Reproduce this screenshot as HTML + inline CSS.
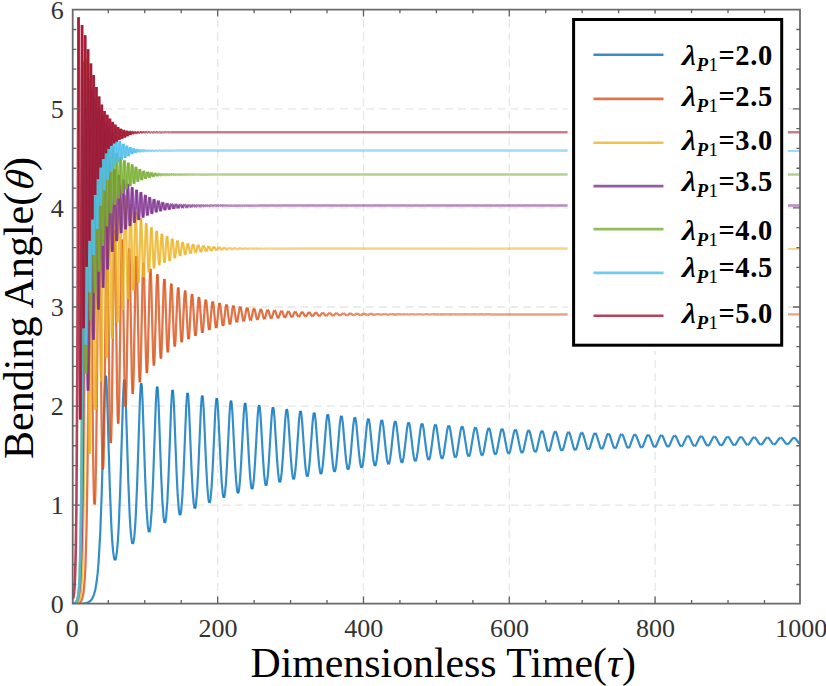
<!DOCTYPE html>
<html><head><meta charset="utf-8"><style>
html,body{margin:0;padding:0;background:#fff;}
body{width:826px;height:686px;overflow:hidden;}
svg{display:block;}
text{font-family:"Liberation Serif",serif;}
</style></head><body>
<svg width="826" height="686" viewBox="0 0 826 686">
<defs><clipPath id="pc"><rect x="72.7" y="9.6" width="727.30" height="594.00"/></clipPath></defs>
<rect width="826" height="686" fill="#fff"/>
<g clip-path="url(#pc)">
<path d="M217.66,6.5V603.60M363.48,6.5V603.60M509.30,6.5V603.60M655.12,6.5V603.60M64.9,505.20H800.00M64.9,406.10H800.00M64.9,307.00H800.00M64.9,207.90H800.00M64.9,108.80H800.00" stroke="#e6e6e6" stroke-width="1.3" stroke-dasharray="8 5.1" fill="none"/>
<g fill="none" stroke-width="2.1" stroke-linejoin="round">
<g stroke="#0072BD"><path stroke-opacity="0.80" stroke-width="2.20" d="M72.70,603.68 80.60,603.59 84.91,603.24 87.96,602.45 90.24,601.05 91.30,599.94 92.25,598.56 93.88,594.87 95.28,589.70 96.49,582.81 97.57,573.94 98.54,562.88 100.25,532.92 101.78,491.28 104.49,396.08 105.18,380.73 105.50,377.01 105.81,375.73"/><path stroke-opacity="0.80" stroke-width="2.20" d="M105.81,375.73 106.12,376.81 106.43,380.22 107.10,394.40 109.81,486.90 111.35,526.11 112.21,540.87 113.10,551.44 114.04,557.90 114.52,559.54 115.00,560.12"/><path stroke-opacity="0.80" stroke-width="2.20" d="M115.00,560.12 115.49,559.64 115.97,558.09 116.91,551.85 117.81,541.59 118.69,527.15 120.25,488.78 123.02,398.37 123.71,384.36 124.03,380.89 124.35,379.66"/><path stroke-opacity="0.80" stroke-width="2.20" d="M124.35,379.66 124.66,380.68 124.98,383.94 125.67,397.66 128.29,480.97 129.67,514.92 130.40,527.42 131.16,536.45 131.93,541.89 132.32,543.29 132.72,543.77"/><path stroke-opacity="0.80" stroke-width="2.20" d="M132.72,543.77 133.11,543.35 133.50,542.04 134.27,536.79 135.03,528.08 135.77,515.90 137.18,482.71 139.85,401.27 140.55,387.74 140.88,384.44 141.21,383.29"/><path stroke-opacity="0.80" stroke-width="2.20" d="M141.21,383.29 141.53,384.30 141.85,387.45 142.55,400.44 145.12,476.69 146.41,506.87 147.76,525.66 148.45,530.44 148.79,531.63 149.14,532.05"/><path stroke-opacity="0.80" stroke-width="2.20" d="M149.14,532.05 149.48,531.70 149.83,530.59 150.51,526.07 151.86,507.88 153.17,478.53 155.80,403.70 156.52,390.83 156.85,387.71 157.18,386.66"/><path stroke-opacity="0.80" stroke-width="2.20" d="M157.18,386.66 157.51,387.64 157.83,390.59 158.54,402.81 161.09,473.38 162.32,500.55 163.57,517.18 164.20,521.33 164.51,522.39 164.83,522.77"/><path stroke-opacity="0.80" stroke-width="2.20" d="M164.83,522.77 165.15,522.46 165.47,521.46 166.09,517.47 167.34,501.39 168.59,475.05 171.18,405.89 171.91,393.76 172.24,390.83 172.58,389.81"/><path stroke-opacity="0.80" stroke-width="2.20" d="M172.58,389.81 172.91,390.70 173.24,393.49 173.96,405.12 176.49,470.68 177.68,495.18 178.86,510.06 179.45,513.78 179.74,514.72 180.04,515.06"/><path stroke-opacity="0.80" stroke-width="2.20" d="M180.04,515.06 180.33,514.79 180.62,513.90 181.21,510.32 182.39,495.93 183.58,472.13 186.16,408.00 186.89,396.53 187.24,393.73 187.58,392.77"/><path stroke-opacity="0.80" stroke-width="2.20" d="M187.58,392.77 187.91,393.64 188.25,396.26 188.97,407.25 191.49,468.19 192.64,490.54 193.76,503.93 194.32,507.32 194.88,508.48"/><path stroke-opacity="0.80" stroke-width="2.20" d="M194.88,508.48 195.16,508.24 195.43,507.46 195.99,504.25 197.12,491.25 198.27,469.69 200.84,409.88 201.58,399.08 201.92,396.47 202.26,395.55"/><path stroke-opacity="0.80" stroke-width="2.20" d="M202.26,395.55 202.60,396.33 202.94,398.79 203.68,409.10 206.19,466.05 207.31,486.51 208.39,498.65 208.93,501.72 209.46,502.76"/><path stroke-opacity="0.80" stroke-width="2.20" d="M209.46,502.76 209.72,502.54 209.99,501.83 210.52,498.94 211.60,487.15 212.72,467.40 215.28,411.74 216.03,401.53 216.38,399.03 216.73,398.16"/><path stroke-opacity="0.80" stroke-width="2.20" d="M216.73,398.16 217.07,398.94 217.41,401.26 218.15,411.03 220.66,464.18 221.75,482.89 222.79,493.96 223.31,496.75 223.82,497.71"/><path stroke-opacity="0.80" stroke-width="2.20" d="M223.82,497.71 224.33,496.87 224.85,494.21 225.89,483.54 226.98,465.47 229.53,413.39 230.29,403.77 230.64,401.45 230.99,400.63"/><path stroke-opacity="0.80" stroke-width="2.20" d="M230.99,400.63 231.33,401.33 231.68,403.53 232.43,412.72 234.94,462.44 236.01,479.67 237.03,489.84 237.53,492.37 238.02,493.22"/><path stroke-opacity="0.80" stroke-width="2.20" d="M238.02,493.22 238.52,492.43 239.01,490.02 240.02,480.23 241.09,463.58 243.64,414.96 244.40,405.90 244.76,403.70 245.11,402.95"/><path stroke-opacity="0.80" stroke-width="2.20" d="M245.11,402.95 245.46,403.64 245.81,405.72 246.56,414.43 249.07,460.86 250.12,476.80 251.11,486.10 251.60,488.41 252.08,489.19"/><path stroke-opacity="0.80" stroke-width="2.20" d="M252.08,489.19 252.56,488.47 253.04,486.27 254.03,477.26 255.07,461.95 257.61,416.53 258.38,407.95 258.74,405.87 259.10,405.14"/><path stroke-opacity="0.80" stroke-width="2.20" d="M259.10,405.14 259.45,405.77 259.80,407.74 260.57,415.96 263.07,459.44 264.10,474.11 265.07,482.68 265.54,484.82 266.01,485.56"/><path stroke-opacity="0.80" stroke-width="2.20" d="M266.01,485.56 266.48,484.91 266.95,482.88 267.91,474.67 268.95,460.52 271.49,417.88 272.26,409.86 272.63,407.88 272.98,407.21"/><path stroke-opacity="0.80" stroke-width="2.20" d="M272.98,407.21 273.34,407.82 273.70,409.67 274.46,417.36 276.97,458.18 277.99,471.74 278.93,479.62 279.40,481.59 279.86,482.26"/><path stroke-opacity="0.80" stroke-width="2.20" d="M279.86,482.26 280.31,481.66 280.77,479.81 281.72,472.21 282.74,459.09 285.28,419.24 286.05,411.67 286.42,409.81 286.78,409.16"/><path stroke-opacity="0.80" stroke-width="2.20" d="M286.78,409.16 287.14,409.73 287.50,411.50 288.27,418.78 290.78,457.03 291.79,469.56 292.72,476.84 293.17,478.64 293.62,479.26"/><path stroke-opacity="0.80" stroke-width="2.20" d="M293.62,479.26 294.07,478.70 294.52,476.98 295.44,469.99 296.45,457.86 298.99,420.52 299.77,413.36 300.14,411.60 300.51,411.01"/><path stroke-opacity="0.80" stroke-width="2.20" d="M300.51,411.01 300.86,411.54 301.23,413.19 302.01,420.05 304.52,455.89 305.51,467.57 306.43,474.29 306.87,475.95 307.32,476.52"/><path stroke-opacity="0.80" stroke-width="2.20" d="M307.32,476.52 307.75,476.01 308.20,474.42 309.11,467.97 310.09,456.76 312.64,421.68 313.43,414.93 313.80,413.29 314.17,412.74"/><path stroke-opacity="0.80" stroke-width="2.20" d="M314.17,412.74 314.53,413.26 314.90,414.82 315.67,421.24 318.19,454.90 319.17,465.71 320.07,471.93 320.51,473.47 320.95,474.00"/><path stroke-opacity="0.80" stroke-width="2.20" d="M320.95,474.00 321.38,473.53 321.82,472.05 322.71,466.07 323.70,455.61 326.24,422.81 327.03,416.48 327.40,414.93 327.77,414.39"/><path stroke-opacity="0.80" stroke-width="2.20" d="M327.77,414.39 328.13,414.86 328.50,416.33 329.29,422.39 331.81,453.94 332.78,464.01 333.67,469.77 334.10,471.20 334.53,471.70"/><path stroke-opacity="0.80" stroke-width="2.20" d="M334.53,471.70 334.96,471.26 335.39,469.91 336.27,464.35 337.24,454.69 339.79,423.87 340.59,417.89 340.96,416.44 341.33,415.94"/><path stroke-opacity="0.80" stroke-width="2.20" d="M341.33,415.94 341.69,416.37 342.06,417.74 342.86,423.44 345.38,453.09 346.35,462.46 347.22,467.78 347.65,469.12 348.07,469.57"/><path stroke-opacity="0.80" stroke-width="2.20" d="M348.07,469.57 348.49,469.17 348.92,467.92 349.79,462.79 350.75,453.80 353.29,424.90 354.10,419.24 354.48,417.87 354.85,417.40"/><path stroke-opacity="0.80" stroke-width="2.20" d="M354.85,417.40 355.22,417.82 355.59,419.12 356.39,424.47 358.92,452.34 359.87,461.00 360.74,465.95 361.16,467.19 361.57,467.61"/><path stroke-opacity="0.80" stroke-width="2.20" d="M361.57,467.61 361.99,467.25 362.41,466.08 363.27,461.30 364.23,452.92 366.77,425.83 367.58,420.53 367.96,419.23 368.34,418.78"/><path stroke-opacity="0.80" stroke-width="2.20" d="M368.34,418.78 368.71,419.17 369.08,420.38 369.88,425.43 372.41,451.56 373.36,459.68 374.21,464.25 374.63,465.40 375.04,465.80"/><path stroke-opacity="0.80" stroke-width="2.20" d="M375.04,465.80 375.45,465.47 375.87,464.40 376.72,459.97 377.67,452.17 380.22,426.70 381.03,421.74 381.42,420.50 381.79,420.08"/><path stroke-opacity="0.80" stroke-width="2.20" d="M381.79,420.08 382.17,420.45 382.54,421.60 383.34,426.35 385.88,450.91 386.82,458.41 387.67,462.70 388.09,463.77 388.49,464.13"/><path stroke-opacity="0.80" stroke-width="2.20" d="M388.49,464.13 388.90,463.80 389.31,462.80 390.15,458.70 391.09,451.44 393.64,427.55 394.46,422.86 394.84,421.70 395.22,421.31"/><path stroke-opacity="0.80" stroke-width="2.20" d="M395.22,421.31 395.60,421.66 395.98,422.75 396.79,427.24 399.32,450.21 400.26,457.26 401.09,461.23 401.50,462.23 401.91,462.58"/><path stroke-opacity="0.80" stroke-width="2.20" d="M401.91,462.58 402.31,462.29 402.71,461.36 403.56,457.52 404.49,450.75 407.04,428.35 407.86,423.95 408.24,422.85 408.63,422.47"/><path stroke-opacity="0.80" stroke-width="2.20" d="M408.63,422.47 409.01,422.79 409.38,423.80 410.20,428.04 412.74,449.64 413.67,456.19 414.50,459.88 414.91,460.82 415.31,461.14"/><path stroke-opacity="0.80" stroke-width="2.20" d="M415.31,461.14 415.71,460.87 416.11,460.01 416.94,456.43 417.87,450.14 420.43,429.08 421.25,424.93 421.63,423.91 422.02,423.56"/><path stroke-opacity="0.80" stroke-width="2.20" d="M422.02,423.56 422.40,423.87 422.78,424.84 423.60,428.83 426.14,449.08 427.06,455.19 427.89,458.65 428.29,459.51 428.69,459.81"/><path stroke-opacity="0.80" stroke-width="2.20" d="M428.69,459.81 429.08,459.55 429.48,458.74 430.30,455.44 431.23,449.54 433.79,429.79 434.61,425.89 435.00,424.92 435.39,424.59"/><path stroke-opacity="0.80" stroke-width="2.20" d="M435.39,424.59 435.77,424.88 436.15,425.78 436.97,429.54 439.51,448.54 440.44,454.27 441.26,457.49 441.66,458.29 442.05,458.57"/><path stroke-opacity="0.80" stroke-width="2.20" d="M442.05,458.57 442.44,458.33 442.84,457.58 443.66,454.49 447.14,430.42 447.97,426.78 448.36,425.87 448.74,425.56"/><path stroke-opacity="0.80" stroke-width="2.20" d="M448.74,425.56 449.12,425.83 449.51,426.67 450.33,430.18 453.80,453.41 454.61,456.40 455.01,457.15 455.40,457.41"/><path stroke-opacity="0.80" stroke-width="2.20" d="M455.40,457.41 455.79,457.19 456.19,456.49 457.00,453.60 460.48,431.07 461.31,427.62 461.70,426.77 462.08,426.48"/><path stroke-opacity="0.80" stroke-width="2.20" d="M462.08,426.48 462.47,426.73 462.86,427.53 463.68,430.82 467.15,452.61 467.95,455.39 468.35,456.10 468.73,456.34"/><path stroke-opacity="0.80" stroke-width="2.20" d="M468.73,456.34 469.12,456.14 469.51,455.49 470.33,452.79 473.80,431.66 474.63,428.42 475.02,427.62 475.42,427.34"/><path stroke-opacity="0.80" stroke-width="2.20" d="M475.42,427.34 475.80,427.58 476.19,428.32 477.02,431.44 480.48,451.85 481.28,454.45 481.67,455.11 482.06,455.34"/><path stroke-opacity="0.80" stroke-width="2.20" d="M482.06,455.34 482.44,455.16 482.84,454.54 483.64,452.03 487.11,432.23 487.95,429.17 488.34,428.42 488.74,428.15"/><path stroke-opacity="0.80" stroke-width="2.20" d="M488.74,428.15 489.12,428.37 489.51,429.08 490.34,432.00 493.81,451.15 494.61,453.58 494.99,454.19 495.38,454.41"/><path stroke-opacity="0.80" stroke-width="2.20" d="M495.38,454.41 495.76,454.23 496.15,453.67 496.96,451.31 500.43,432.74 501.26,429.87 501.66,429.17 502.05,428.92"/><path stroke-opacity="0.80" stroke-width="2.20" d="M502.05,428.92 502.43,429.12 502.83,429.78 503.66,432.54 507.13,450.50 507.92,452.77 508.30,453.34 508.69,453.54"/><path stroke-opacity="0.80" stroke-width="2.20" d="M508.69,453.54 509.07,453.38 509.45,452.85 510.25,450.66 513.72,433.24 514.56,430.55 514.96,429.87 515.35,429.64"/><path stroke-opacity="0.80" stroke-width="2.20" d="M515.35,429.64 515.74,429.84 516.14,430.46 516.97,433.05 520.44,449.90 521.22,452.01 521.61,452.54 521.99,452.73"/><path stroke-opacity="0.80" stroke-width="2.20" d="M521.99,452.73 522.36,452.59 522.75,452.09 523.55,450.04 527.02,433.69 527.86,431.16 528.26,430.53 528.66,430.32"/><path stroke-opacity="0.80" stroke-width="2.20" d="M528.66,430.32 529.05,430.51 529.44,431.10 530.28,433.53 533.73,449.31 534.52,451.30 535.28,451.98"/><path stroke-opacity="0.80" stroke-width="2.20" d="M535.28,451.98 535.66,451.84 536.05,451.37 536.84,449.46 540.31,434.12 541.15,431.75 541.55,431.16 541.95,430.96"/><path stroke-opacity="0.80" stroke-width="2.20" d="M541.95,430.96 542.34,431.13 542.73,431.68 543.58,433.98 547.03,448.78 547.82,450.64 548.57,451.27"/><path stroke-opacity="0.80" stroke-width="2.20" d="M548.57,451.27 549.33,450.71 550.12,448.92 553.59,434.54 554.44,432.30 554.84,431.75 555.24,431.56"/><path stroke-opacity="0.80" stroke-width="2.20" d="M555.24,431.56 555.63,431.73 556.02,432.24 556.86,434.39 560.32,448.28 561.10,450.02 561.85,450.62"/><path stroke-opacity="0.80" stroke-width="2.20" d="M561.85,450.62 562.61,450.09 563.40,448.43 566.87,434.91 567.72,432.82 568.12,432.31 568.52,432.13"/><path stroke-opacity="0.80" stroke-width="2.20" d="M568.52,432.13 568.91,432.28 569.31,432.77 570.15,434.78 573.61,447.83 574.39,449.45 575.14,450.00"/><path stroke-opacity="0.80" stroke-width="2.20" d="M575.14,450.00 575.89,449.52 576.67,447.96 580.14,435.30 580.99,433.32 581.39,432.83 581.79,432.66"/><path stroke-opacity="0.80" stroke-width="2.20" d="M581.79,432.66 582.19,432.80 582.59,433.26 583.43,435.15 586.89,447.39 587.66,448.90 588.41,449.43"/><path stroke-opacity="0.80" stroke-width="2.20" d="M588.41,449.43 589.16,448.97 589.95,447.51 593.42,435.63 594.27,433.78 595.07,433.16"/><path stroke-opacity="0.80" stroke-width="2.20" d="M595.07,433.16 595.87,433.73 596.71,435.51 600.17,446.98 600.94,448.40 601.68,448.89"/><path stroke-opacity="0.80" stroke-width="2.20" d="M601.68,448.89 602.43,448.47 603.21,447.10 606.68,435.96 607.54,434.21 608.34,433.63"/><path stroke-opacity="0.80" stroke-width="2.20" d="M608.34,433.63 609.14,434.16 609.99,435.84 613.44,446.60 614.21,447.92 614.95,448.39"/><path stroke-opacity="0.80" stroke-width="2.20" d="M614.95,448.39 615.70,448.00 616.48,446.71 619.95,436.26 620.80,434.62 621.61,434.08"/><path stroke-opacity="0.80" stroke-width="2.20" d="M621.61,434.08 622.41,434.58 623.25,436.14 626.72,446.25 627.48,447.49 628.22,447.92"/><path stroke-opacity="0.80" stroke-width="2.20" d="M628.22,447.92 628.96,447.55 629.74,446.36 633.21,436.55 634.06,435.01 634.87,434.49"/><path stroke-opacity="0.80" stroke-width="2.20" d="M634.87,434.49 635.67,434.96 636.52,436.43 639.98,445.91 640.74,447.07 641.48,447.48"/><path stroke-opacity="0.80" stroke-width="2.20" d="M641.48,447.48 642.23,447.14 643.00,446.02 646.47,436.82 647.33,435.37 648.14,434.89"/><path stroke-opacity="0.80" stroke-width="2.20" d="M648.14,434.89 648.95,435.33 649.80,436.72 653.25,445.60 654.01,446.69 654.74,447.07"/><path stroke-opacity="0.80" stroke-width="2.20" d="M654.74,447.07 655.49,446.75 656.26,445.70 659.73,437.07 660.59,435.71 661.40,435.25"/><path stroke-opacity="0.80" stroke-width="2.20" d="M661.40,435.25 662.09,435.56 662.82,436.52 666.27,444.85 667.15,446.21 668.00,446.68"/><path stroke-opacity="0.80" stroke-width="2.20" d="M668.00,446.68 668.75,446.39 669.52,445.40 672.99,437.30 673.85,436.03 674.66,435.60"/><path stroke-opacity="0.80" stroke-width="2.20" d="M674.66,435.60 675.36,435.89 676.09,436.80 679.53,444.60 680.41,445.87 681.25,446.32"/><path stroke-opacity="0.80" stroke-width="2.20" d="M681.25,446.32 682.00,446.05 682.78,445.13 686.25,437.52 687.11,436.33 687.92,435.93"/><path stroke-opacity="0.80" stroke-width="2.20" d="M687.92,435.93 688.62,436.20 689.35,437.06 692.78,444.35 693.66,445.55 694.50,445.99"/><path stroke-opacity="0.80" stroke-width="2.20" d="M694.50,445.99 695.25,445.74 696.03,444.88 699.51,437.74 700.37,436.61 701.18,436.23"/><path stroke-opacity="0.80" stroke-width="2.20" d="M701.18,436.23 701.88,436.49 702.61,437.30 706.04,444.14 706.92,445.26 707.75,445.67"/><path stroke-opacity="0.80" stroke-width="2.20" d="M707.75,445.67 708.50,445.44 709.28,444.64 712.76,437.94 713.62,436.88 714.43,436.52"/><path stroke-opacity="0.80" stroke-width="2.20" d="M714.43,436.52 715.14,436.76 715.87,437.52 719.29,443.93 720.17,444.98 720.99,445.37"/><path stroke-opacity="0.80" stroke-width="2.20" d="M720.99,445.37 721.74,445.17 722.54,444.41 726.02,438.11 726.88,437.13 727.69,436.79"/><path stroke-opacity="0.80" stroke-width="2.20" d="M727.69,436.79 728.40,437.02 729.14,437.74 732.54,443.73 733.40,444.72 734.23,445.10"/><path stroke-opacity="0.80" stroke-width="2.20" d="M734.23,445.10 734.99,444.91 735.78,444.20 739.27,438.29 740.13,437.36 740.95,437.05"/><path stroke-opacity="0.80" stroke-width="2.20" d="M740.95,437.05 741.66,437.26 742.40,437.94 745.79,443.55 746.65,444.47 747.46,444.84"/><path stroke-opacity="0.80" stroke-width="2.20" d="M747.46,444.84 748.23,444.67 749.04,444.00 752.53,438.45 753.39,437.58 754.20,437.29"/><path stroke-opacity="0.80" stroke-width="2.20" d="M754.20,437.29 754.92,437.49 755.67,438.14 759.02,443.35 759.87,444.23 760.67,444.59"/><path stroke-opacity="0.80" stroke-width="2.20" d="M760.67,444.59 761.45,444.46 762.28,443.83 765.78,438.60 766.64,437.79 767.45,437.51"/><path stroke-opacity="0.80" stroke-width="2.20" d="M767.45,437.51 768.18,437.71 768.95,438.33 772.25,443.16 773.07,443.98 773.84,444.35"/><path stroke-opacity="0.80" stroke-width="2.20" d="M773.84,444.35 774.66,444.26 775.51,443.67 779.03,438.75 779.89,437.98 780.71,437.72"/><path stroke-opacity="0.80" stroke-width="2.20" d="M780.71,437.72 781.46,437.92 782.24,438.54 785.41,442.92 786.18,443.69 786.90,444.09 787.79,444.10"/><path stroke-opacity="0.80" stroke-width="2.20" d="M787.79,444.10 788.69,443.56 792.29,438.88 793.15,438.16 793.96,437.92"/><path stroke-opacity="0.80" stroke-width="2.20" d="M793.96,437.92 794.72,438.11 795.51,438.70 798.65,442.77 800.10,443.88"/></g>
<g stroke="#D95319"><path stroke-opacity="0.80" stroke-width="2.30" d="M72.70,603.68 76.97,603.51 79.28,602.91 80.16,602.33 80.90,601.52 82.11,599.02 83.17,594.60 84.05,587.97 84.79,578.65 85.43,566.32 86.52,530.06 87.44,474.65 88.30,394.27 89.66,226.31 90.00,200.06 90.32,191.60"/><path stroke-opacity="0.80" stroke-width="2.30" d="M90.32,191.60 90.64,199.86 90.98,225.50 93.00,449.32 93.77,491.67 94.09,500.94 94.50,504.49"/><path stroke-opacity="0.80" stroke-width="2.30" d="M94.50,504.49 94.75,504.06 94.94,502.33 95.35,493.65 96.16,455.11 96.92,391.84 98.32,238.54 98.68,213.96 99.02,206.17"/><path stroke-opacity="0.80" stroke-width="2.30" d="M99.02,206.17 99.34,213.66 99.70,236.93 101.65,426.18 102.30,458.49 102.63,466.65 102.96,469.45"/><path stroke-opacity="0.80" stroke-width="2.30" d="M102.96,469.45 103.27,466.93 103.59,459.39 104.23,429.27 106.23,249.53 106.61,226.26 106.97,218.79"/><path stroke-opacity="0.80" stroke-width="2.30" d="M106.97,218.79 107.31,225.66 107.68,246.90 109.56,408.02 110.15,434.36 110.44,440.88 110.74,443.06"/><path stroke-opacity="0.80" stroke-width="2.30" d="M110.74,443.06 111.01,441.09 111.30,435.06 111.87,410.73 113.80,257.27 114.19,236.60 114.55,229.88"/><path stroke-opacity="0.80" stroke-width="2.30" d="M114.55,229.88 114.91,236.07 115.29,254.93 117.15,395.26 117.68,416.46 117.94,421.77 118.21,423.63"/><path stroke-opacity="0.80" stroke-width="2.30" d="M118.21,423.63 118.47,422.03 118.73,417.05 119.25,397.36 121.15,264.38 121.55,245.87 121.93,239.67"/><path stroke-opacity="0.80" stroke-width="2.30" d="M121.93,239.67 122.29,245.13 122.68,261.83 124.52,382.75 125.03,400.63 125.28,405.13 125.53,406.58"/><path stroke-opacity="0.80" stroke-width="2.30" d="M125.53,406.58 126.02,401.02 126.51,384.54 128.38,270.21 128.78,253.81 129.17,248.34"/><path stroke-opacity="0.80" stroke-width="2.30" d="M129.17,248.34 129.54,253.22 129.93,268.07 131.76,373.65 132.24,388.81 132.72,393.78"/><path stroke-opacity="0.80" stroke-width="2.30" d="M132.72,393.78 133.18,389.23 133.65,375.41 135.50,275.37 135.92,260.84 136.31,256.02"/><path stroke-opacity="0.80" stroke-width="2.30" d="M136.31,256.02 136.69,260.43 137.09,273.69 138.89,365.09 139.37,378.08 139.82,382.36"/><path stroke-opacity="0.80" stroke-width="2.30" d="M139.82,382.36 140.27,378.53 140.73,366.77 142.57,279.88 142.99,267.03 143.38,262.84"/><path stroke-opacity="0.80" stroke-width="2.30" d="M143.38,262.84 143.77,266.73 144.17,278.50 145.98,358.47 146.44,369.46 146.88,373.07"/><path stroke-opacity="0.80" stroke-width="2.30" d="M146.88,373.07 147.30,369.86 147.75,359.90 149.58,283.97 150.01,272.56 150.41,268.89"/><path stroke-opacity="0.80" stroke-width="2.30" d="M150.41,268.89 150.79,272.29 151.21,282.75 153.01,353.04 153.46,362.43 153.89,365.50"/><path stroke-opacity="0.80" stroke-width="2.30" d="M153.89,365.50 154.30,362.68 154.73,354.13 156.55,287.84 156.98,277.60 157.39,274.25"/><path stroke-opacity="0.80" stroke-width="2.30" d="M157.39,274.25 157.78,277.23 158.21,286.52 160.00,347.84 160.43,355.83 160.85,358.56"/><path stroke-opacity="0.80" stroke-width="2.30" d="M160.85,358.56 161.26,356.18 161.68,348.86 163.51,290.67 163.95,281.79 164.35,278.93"/><path stroke-opacity="0.80" stroke-width="2.30" d="M164.35,278.93 164.75,281.57 165.17,289.66 166.96,343.14 167.39,350.10 167.81,352.36"/><path stroke-opacity="0.80" stroke-width="2.30" d="M167.81,352.36 168.21,350.26 168.62,343.95 170.43,293.95 170.88,286.15 171.29,283.63"/><path stroke-opacity="0.80" stroke-width="2.30" d="M171.29,283.63 171.68,285.86 172.11,292.76 173.90,338.43 174.33,344.42 174.74,346.43"/><path stroke-opacity="0.80" stroke-width="2.30" d="M174.74,346.43 175.14,344.68 175.55,339.28 177.36,296.41 177.80,289.69 178.22,287.49"/><path stroke-opacity="0.80" stroke-width="2.30" d="M178.22,287.49 178.62,289.46 179.05,295.60 180.84,335.43 181.26,340.56 181.66,342.28"/><path stroke-opacity="0.80" stroke-width="2.30" d="M181.66,342.28 182.06,340.78 182.46,336.13 184.27,298.42 184.71,292.51 185.13,290.61"/><path stroke-opacity="0.80" stroke-width="2.30" d="M185.13,290.61 185.53,292.41 185.97,297.94 187.77,333.33 188.18,337.79 188.57,339.21"/><path stroke-opacity="0.80" stroke-width="2.30" d="M188.57,339.21 188.95,337.90 189.35,333.95 191.14,301.01 191.60,295.68 192.03,293.96"/><path stroke-opacity="0.80" stroke-width="2.30" d="M192.03,293.96 192.44,295.54 192.89,300.38 194.68,330.84 195.08,334.59 195.47,335.85"/><path stroke-opacity="0.80" stroke-width="2.30" d="M195.47,335.85 195.90,334.41 196.36,329.88 198.16,301.45 198.55,298.07 198.93,296.98"/><path stroke-opacity="0.80" stroke-width="2.30" d="M198.93,296.98 199.35,298.36 199.80,302.57 201.59,328.64 201.98,331.78 202.37,332.82"/><path stroke-opacity="0.80" stroke-width="2.30" d="M202.37,332.82 202.79,331.59 203.23,327.84 205.04,303.61 205.44,300.67 205.82,299.71"/><path stroke-opacity="0.80" stroke-width="2.30" d="M205.82,299.71 206.24,300.84 206.70,304.43 208.49,326.52 208.88,329.12 209.26,330.02"/><path stroke-opacity="0.80" stroke-width="2.30" d="M209.26,330.02 209.68,328.97 210.13,325.69 211.93,304.88 212.33,302.32 212.71,301.49"/><path stroke-opacity="0.80" stroke-width="2.30" d="M212.71,301.49 213.13,302.48 213.59,305.60 215.39,325.01 215.77,327.29 216.15,328.06"/><path stroke-opacity="0.80" stroke-width="2.30" d="M216.15,328.06 216.57,327.10 217.02,324.24 218.81,306.04 219.21,303.80 219.60,303.06"/><path stroke-opacity="0.80" stroke-width="2.30" d="M219.60,303.06 220.02,303.93 220.46,306.56 222.25,323.20 222.65,325.20 223.02,325.86"/><path stroke-opacity="0.80" stroke-width="2.30" d="M223.02,325.86 223.40,325.28 223.78,323.46 225.58,307.79 226.04,305.27 226.48,304.44"/><path stroke-opacity="0.80" stroke-width="2.30" d="M226.48,304.44 226.90,305.19 227.35,307.52 229.14,322.09 229.53,323.85 229.91,324.44"/><path stroke-opacity="0.80" stroke-width="2.30" d="M229.91,324.44 230.33,323.75 230.78,321.58 232.59,307.86 232.98,306.20 233.36,305.65"/><path stroke-opacity="0.80" stroke-width="2.30" d="M233.36,305.65 233.77,306.26 234.20,308.14 235.96,320.25 236.38,321.80 236.78,322.31"/><path stroke-opacity="0.80" stroke-width="2.30" d="M236.78,322.31 237.17,321.85 237.59,320.40 239.39,309.04 239.83,307.29 240.24,306.72"/><path stroke-opacity="0.80" stroke-width="2.30" d="M240.24,306.72 240.64,307.24 241.07,308.86 242.85,319.43 243.28,320.81 243.68,321.26"/><path stroke-opacity="0.80" stroke-width="2.30" d="M243.68,321.26 244.06,320.87 244.47,319.63 246.27,309.67 246.71,308.15 247.12,307.66"/><path stroke-opacity="0.80" stroke-width="2.30" d="M247.12,307.66 247.52,308.11 247.95,309.53 249.73,318.80 250.16,320.00 250.56,320.40"/><path stroke-opacity="0.80" stroke-width="2.30" d="M250.56,320.40 250.94,320.05 251.34,318.98 253.15,310.26 253.58,308.92 254.00,308.48"/><path stroke-opacity="0.80" stroke-width="2.30" d="M254.00,308.48 254.40,308.87 254.83,310.10 256.62,318.27 257.04,319.30 257.44,319.64"/><path stroke-opacity="0.80" stroke-width="2.30" d="M257.44,319.64 257.82,319.33 258.22,318.39 260.03,310.75 260.46,309.59 260.88,309.21"/><path stroke-opacity="0.80" stroke-width="2.30" d="M260.88,309.21 261.28,309.55 261.71,310.64 263.50,317.77 263.91,318.68 264.31,318.98"/><path stroke-opacity="0.80" stroke-width="2.30" d="M264.31,318.98 264.70,318.72 265.10,317.90 266.90,311.20 267.34,310.18 267.75,309.84"/><path stroke-opacity="0.80" stroke-width="2.30" d="M267.75,309.84 268.16,310.15 268.59,311.10 270.38,317.35 270.79,318.14 271.19,318.41"/><path stroke-opacity="0.80" stroke-width="2.30" d="M271.19,318.41 271.57,318.18 271.97,317.46 273.78,311.60 274.21,310.70 274.63,310.40"/><path stroke-opacity="0.80" stroke-width="2.30" d="M274.63,310.40 275.04,310.67 275.47,311.51 277.26,316.98 277.67,317.68 278.07,317.90"/><path stroke-opacity="0.80" stroke-width="2.30" d="M278.07,317.90 278.45,317.70 278.85,317.07 280.65,311.95 281.09,311.16 281.51,310.89"/><path stroke-opacity="0.80" stroke-width="2.30" d="M281.51,310.89 281.91,311.13 282.34,311.86 284.13,316.65 284.55,317.26 284.95,317.46"/><path stroke-opacity="0.80" stroke-width="2.30" d="M284.95,317.46 285.33,317.29 285.73,316.73 287.53,312.23 287.97,311.55 288.39,311.32"/><path stroke-opacity="0.80" stroke-width="2.30" d="M288.39,311.32 288.80,311.53 289.23,312.17 291.01,316.37 291.43,316.91 291.82,317.08"/><path stroke-opacity="0.80" stroke-width="2.30" d="M291.82,317.08 292.60,316.44 294.40,312.50 294.84,311.90 295.26,311.70"/><path stroke-opacity="0.80" stroke-width="2.30" d="M295.26,311.70 295.67,311.88 296.10,312.44 297.89,316.12 298.70,316.74"/><path stroke-opacity="0.80" stroke-width="2.30" d="M298.70,316.74 299.47,316.19 301.28,312.74 301.71,312.21 302.14,312.03"/><path stroke-opacity="0.80" stroke-width="2.30" d="M302.14,312.03 302.54,312.19 302.97,312.67 304.77,315.91 305.58,316.45"/><path stroke-opacity="0.80" stroke-width="2.30" d="M305.58,316.45 306.35,315.97 308.16,312.93 308.60,312.47 309.02,312.32"/><path stroke-opacity="0.79" stroke-width="2.30" d="M309.02,312.32 309.85,312.89 311.64,315.71 312.45,316.19"/><path stroke-opacity="0.78" stroke-width="2.31" d="M312.45,316.19 313.23,315.76 315.03,313.11 315.89,312.57"/><path stroke-opacity="0.76" stroke-width="2.32" d="M315.89,312.57 316.73,313.07 318.52,315.54 319.32,315.96"/><path stroke-opacity="0.75" stroke-width="2.32" d="M319.32,315.96 320.10,315.59 321.91,313.27 322.77,312.79"/><path stroke-opacity="0.74" stroke-width="2.33" d="M322.77,312.79 323.61,313.24 325.40,315.40 326.21,315.77"/><path stroke-opacity="0.72" stroke-width="2.33" d="M326.21,315.77 326.98,315.44 328.78,313.41 329.65,312.99"/><path stroke-opacity="0.71" stroke-width="2.33" d="M329.65,312.99 330.48,313.37 332.27,315.27 333.08,315.59"/><path stroke-opacity="0.70" stroke-width="2.34" d="M333.08,315.59 333.85,315.31 335.66,313.53 336.52,313.16"/><path stroke-opacity="0.69" stroke-width="2.34" d="M336.52,313.16 337.36,313.50 339.15,315.16 339.95,315.44"/><path stroke-opacity="0.68" stroke-width="2.35" d="M339.95,315.44 340.73,315.19 342.53,313.63 343.39,313.31"/><path stroke-opacity="0.67" stroke-width="2.35" d="M343.39,313.31 344.24,313.61 346.03,315.07 346.84,315.31"/><path stroke-opacity="0.67" stroke-width="2.35" d="M346.84,315.31 347.61,315.09 349.41,313.72 350.27,313.44"/><path stroke-opacity="0.66" stroke-width="2.36" d="M350.27,313.44 351.11,313.70 352.90,314.98 353.71,315.19"/><path stroke-opacity="0.65" stroke-width="2.36" d="M353.71,315.19 354.48,315.00 356.28,313.80 357.15,313.56"/><path stroke-opacity="0.65" stroke-width="2.36" d="M357.15,313.56 357.99,313.78 359.78,314.91 360.58,315.09"/><path stroke-opacity="0.64" stroke-width="2.36" d="M360.58,315.09 361.35,314.93 363.16,313.88 364.02,313.66"/><path stroke-opacity="0.63" stroke-width="2.37" d="M364.02,313.66 364.87,313.86 366.66,314.84 367.46,315.00"/><path stroke-opacity="0.63" stroke-width="2.37" d="M367.46,315.00 368.24,314.86 370.03,313.94 370.90,313.75"/><path stroke-opacity="0.62" stroke-width="2.37" d="M370.90,313.75 371.74,313.92 373.53,314.78 374.34,314.93"/><path stroke-opacity="0.62" stroke-width="2.37" d="M374.34,314.93 377.78,313.83"/><path stroke-opacity="0.61" stroke-width="2.37" d="M377.78,313.83 381.21,314.86"/><path stroke-opacity="0.61" stroke-width="2.38" d="M381.21,314.86 384.65,313.89"/><path stroke-opacity="0.61" stroke-width="2.38" d="M384.65,313.89 388.09,314.80"/><path stroke-opacity="0.60" stroke-width="2.38" d="M388.09,314.80 391.53,313.95"/><path stroke-opacity="0.60" stroke-width="2.38" d="M391.53,313.95 394.97,314.74"/><path stroke-opacity="0.60" stroke-width="2.38" d="M394.97,314.74 398.40,314.01"/><path stroke-opacity="0.59" stroke-width="2.38" d="M398.40,314.01 401.84,314.70"/><path stroke-opacity="0.59" stroke-width="2.38" d="M401.84,314.70 405.28,314.05"/><path stroke-opacity="0.59" stroke-width="2.38" d="M405.28,314.05 408.72,314.66"/><path stroke-opacity="0.59" stroke-width="2.39" d="M408.72,314.66 412.16,314.09"/><path stroke-opacity="0.58" stroke-width="2.39" d="M412.16,314.09 415.60,314.62"/><path stroke-opacity="0.58" stroke-width="2.39" d="M415.60,314.62 419.03,314.13"/><path stroke-opacity="0.58" stroke-width="2.39" d="M419.03,314.13 422.47,314.59"/><path stroke-opacity="0.58" stroke-width="2.39" d="M422.47,314.59 425.91,314.16"/><path stroke-opacity="0.58" stroke-width="2.39" d="M425.91,314.16 429.34,314.57"/><path stroke-opacity="0.57" stroke-width="2.39" d="M429.34,314.57 432.78,314.18"/><path stroke-opacity="0.57" stroke-width="2.39" d="M432.78,314.18 436.22,314.54"/><path stroke-opacity="0.57" stroke-width="2.39" d="M436.22,314.54 439.66,314.21"/><path stroke-opacity="0.57" stroke-width="2.39" d="M439.66,314.21 443.10,314.52"/><path stroke-opacity="0.57" stroke-width="2.39" d="M443.10,314.52 446.53,314.23"/><path stroke-opacity="0.57" stroke-width="2.39" d="M446.53,314.23 449.97,314.50"/><path stroke-opacity="0.57" stroke-width="2.39" d="M449.97,314.50 453.41,314.25"/><path stroke-opacity="0.57" stroke-width="2.39" d="M453.41,314.25 456.85,314.49"/><path stroke-opacity="0.56" stroke-width="2.39" d="M456.85,314.49 460.29,314.26"/><path stroke-opacity="0.56" stroke-width="2.39" d="M460.29,314.26 463.72,314.47"/><path stroke-opacity="0.56" stroke-width="2.40" d="M463.72,314.47 467.16,314.28"/><path stroke-opacity="0.56" stroke-width="2.40" d="M467.16,314.28 470.60,314.46"/><path stroke-opacity="0.56" stroke-width="2.40" d="M470.60,314.46 474.04,314.29"/><path stroke-opacity="0.56" stroke-width="2.40" d="M474.04,314.29 477.48,314.45"/><path stroke-opacity="0.56" stroke-width="2.40" d="M477.48,314.45 480.92,314.30"/><path stroke-opacity="0.56" stroke-width="2.40" d="M480.92,314.30 484.35,314.44"/><path stroke-opacity="0.56" stroke-width="2.40" d="M484.35,314.44 487.79,314.31"/><path stroke-opacity="0.56" stroke-width="2.40" d="M487.79,314.31 491.23,314.43"/><path stroke-opacity="0.55" stroke-width="2.40" d="M491.23,314.43 800.10,314.38"/></g>
<g stroke="#EDB120"><path stroke-opacity="0.80" stroke-width="2.30" d="M72.70,603.68 76.16,603.48 77.17,603.20 77.97,602.74 78.66,602.00 79.25,600.97 80.19,597.78 81.02,592.04 81.70,583.43 82.77,554.91 83.65,504.30 84.40,425.79 85.41,248.88 86.01,99.41 86.44,58.76"/><path stroke-opacity="0.80" stroke-width="2.30" d="M86.44,58.76 86.87,97.24 87.52,249.04 88.30,377.81 88.90,435.11 89.20,449.23 89.52,454.00"/><path stroke-opacity="0.80" stroke-width="2.30" d="M89.52,454.00 89.82,449.74 90.11,436.99 90.71,385.72 92.23,126.95 92.70,90.41"/><path stroke-opacity="0.80" stroke-width="2.30" d="M92.70,90.41 93.15,124.75 94.54,351.84 95.05,395.07 95.30,406.09 95.55,409.93"/><path stroke-opacity="0.80" stroke-width="2.30" d="M95.55,409.93 96.03,397.87 96.51,361.19 97.96,149.37 98.21,124.69 98.46,116.46"/><path stroke-opacity="0.80" stroke-width="2.30" d="M98.46,116.46 98.95,148.08 100.31,337.69 100.76,370.73 101.20,381.55"/><path stroke-opacity="0.80" stroke-width="2.30" d="M101.20,381.55 101.61,372.19 102.04,344.12 103.45,168.12 103.73,145.51 103.99,138.20"/><path stroke-opacity="0.80" stroke-width="2.30" d="M103.99,138.20 104.24,144.81 104.51,165.47 105.86,323.43 106.28,349.34 106.68,357.85"/><path stroke-opacity="0.80" stroke-width="2.30" d="M106.68,357.85 107.06,350.52 107.44,328.72 108.84,182.36 109.14,162.65 109.40,156.44"/><path stroke-opacity="0.80" stroke-width="2.30" d="M109.40,156.44 109.67,162.29 109.94,179.94 111.30,311.55 111.68,331.75 112.05,338.44"/><path stroke-opacity="0.80" stroke-width="2.30" d="M112.05,338.44 112.41,332.70 112.77,315.38 114.16,194.19 114.46,177.28 114.74,171.75"/><path stroke-opacity="0.80" stroke-width="2.30" d="M114.74,171.75 115.01,176.69 115.30,192.10 116.65,301.19 117.02,317.49 117.38,322.77"/><path stroke-opacity="0.80" stroke-width="2.30" d="M117.38,322.77 117.71,318.14 118.06,304.11 119.44,203.88 119.74,189.44 120.03,184.60"/><path stroke-opacity="0.80" stroke-width="2.30" d="M120.03,184.60 120.31,188.65 120.61,201.57 121.96,292.60 122.32,305.62 122.66,309.82"/><path stroke-opacity="0.80" stroke-width="2.30" d="M122.66,309.82 122.98,306.12 123.31,294.92 124.69,211.55 125.00,199.39 125.30,195.36"/><path stroke-opacity="0.80" stroke-width="2.30" d="M125.30,195.36 125.58,198.90 125.89,209.93 127.24,285.47 127.58,295.82 127.91,299.21"/><path stroke-opacity="0.80" stroke-width="2.30" d="M127.91,299.21 128.22,296.23 128.54,287.35 129.92,218.08 130.24,207.77 130.54,204.38"/><path stroke-opacity="0.80" stroke-width="2.30" d="M130.54,204.38 130.83,207.41 131.14,216.52 132.49,279.19 132.83,287.67 133.15,290.45"/><path stroke-opacity="0.80" stroke-width="2.30" d="M133.15,290.45 133.45,288.05 133.77,280.84 135.14,223.33 135.47,214.67 135.77,211.90"/><path stroke-opacity="0.80" stroke-width="2.30" d="M135.77,211.90 136.07,214.48 136.38,222.24 137.74,274.19 138.06,281.04 138.38,283.27"/><path stroke-opacity="0.80" stroke-width="2.30" d="M138.38,283.27 138.68,281.29 138.98,275.42 140.35,227.89 140.68,220.53 141.00,218.18"/><path stroke-opacity="0.80" stroke-width="2.30" d="M141.00,218.18 141.29,220.29 141.61,226.82 142.97,269.87 143.29,275.45 143.60,277.30"/><path stroke-opacity="0.80" stroke-width="2.30" d="M143.60,277.30 143.89,275.68 144.19,270.93 145.56,231.49 145.89,225.35 146.21,223.30"/><path stroke-opacity="0.80" stroke-width="2.30" d="M146.21,223.30 146.52,225.09 146.84,230.50 148.19,266.27 148.51,270.89 148.82,272.36"/><path stroke-opacity="0.80" stroke-width="2.30" d="M148.82,272.36 149.11,271.00 149.40,267.01 150.77,234.07 151.11,229.00 151.43,227.35"/><path stroke-opacity="0.80" stroke-width="2.30" d="M151.43,227.35 151.73,228.87 152.05,233.40 153.41,263.29 153.72,267.11 154.02,268.42"/><path stroke-opacity="0.80" stroke-width="2.30" d="M154.02,268.42 154.31,267.36 154.61,264.07 155.97,236.53 156.31,232.19 156.63,230.80"/><path stroke-opacity="0.80" stroke-width="2.30" d="M156.63,230.80 156.94,232.06 157.27,235.92 158.62,260.95 158.93,264.10 159.23,265.12"/><path stroke-opacity="0.80" stroke-width="2.30" d="M159.23,265.12 159.52,264.22 159.81,261.53 161.18,238.48 161.52,234.90 161.84,233.77"/><path stroke-opacity="0.80" stroke-width="2.30" d="M161.84,233.77 162.16,234.87 162.48,238.11 163.84,259.03 164.16,261.69 164.45,262.55"/><path stroke-opacity="0.80" stroke-width="2.30" d="M164.45,262.55 164.77,261.56 165.12,258.50 166.46,239.41 166.76,237.09 167.04,236.34"/><path stroke-opacity="0.80" stroke-width="2.30" d="M167.04,236.34 167.37,237.30 167.72,240.25 169.07,258.19 169.36,260.29 169.64,260.97"/><path stroke-opacity="0.80" stroke-width="2.30" d="M169.64,260.97 169.95,260.17 170.27,257.69 171.63,241.40 171.95,239.35 172.24,238.67"/><path stroke-opacity="0.80" stroke-width="2.30" d="M172.24,238.67 172.56,239.40 172.91,241.73 174.26,255.97 174.56,257.69 174.84,258.23"/><path stroke-opacity="0.80" stroke-width="2.30" d="M174.84,258.23 175.15,257.57 175.48,255.61 176.85,242.76 177.15,241.17 177.45,240.63"/><path stroke-opacity="0.80" stroke-width="2.30" d="M177.45,240.63 177.77,241.19 178.10,242.93 179.46,254.15 179.77,255.53 180.06,255.97"/><path stroke-opacity="0.80" stroke-width="2.30" d="M180.06,255.97 180.38,255.43 180.71,253.85 182.06,243.79 182.36,242.58 182.65,242.18"/><path stroke-opacity="0.80" stroke-width="2.30" d="M182.65,242.18 182.97,242.64 183.30,244.05 184.67,253.06 184.97,254.16 185.27,254.51"/><path stroke-opacity="0.80" stroke-width="2.30" d="M185.27,254.51 185.58,254.10 185.91,252.87 187.27,244.90 187.57,243.92 187.87,243.59"/><path stroke-opacity="0.80" stroke-width="2.30" d="M187.87,243.59 188.19,243.96 188.53,245.10 189.89,252.31 190.19,253.16 190.47,253.43"/><path stroke-opacity="0.80" stroke-width="2.30" d="M190.47,253.43 190.79,253.09 191.12,252.06 192.48,245.40 192.79,244.58 193.08,244.32"/><path stroke-opacity="0.80" stroke-width="2.30" d="M193.08,244.32 193.40,244.64 193.74,245.61 195.09,251.71 195.39,252.45 195.67,252.69"/><path stroke-opacity="0.80" stroke-width="2.30" d="M195.67,252.69 195.99,252.39 196.33,251.51 197.70,245.80 198.28,244.90"/><path stroke-opacity="0.80" stroke-width="2.30" d="M198.28,244.90 198.59,245.16 198.93,245.97 200.28,251.13 200.88,251.97"/><path stroke-opacity="0.80" stroke-width="2.30" d="M200.88,251.97 201.20,251.72 201.53,250.99 202.88,246.37 203.47,245.62"/><path stroke-opacity="0.80" stroke-width="2.30" d="M203.47,245.62 203.79,245.84 204.13,246.48 205.49,250.64 206.08,251.30"/><path stroke-opacity="0.80" stroke-width="2.30" d="M206.08,251.30 206.40,251.12 206.74,250.52 208.10,246.76 208.68,246.17"/><path stroke-opacity="0.80" stroke-width="2.30" d="M208.68,246.17 209.33,246.88 210.70,250.32 211.28,250.87"/><path stroke-opacity="0.80" stroke-width="2.30" d="M211.28,250.87 211.91,250.26 213.26,247.22 213.87,246.72"/><path stroke-opacity="0.78" stroke-width="2.31" d="M213.87,246.72 214.54,247.27 215.89,249.90 216.48,250.32"/><path stroke-opacity="0.75" stroke-width="2.32" d="M216.48,250.32 217.12,249.84 218.48,247.54 219.07,247.16"/><path stroke-opacity="0.72" stroke-width="2.33" d="M219.07,247.16 219.71,247.56 221.08,249.53 221.68,249.85"/><path stroke-opacity="0.69" stroke-width="2.34" d="M221.68,249.85 222.33,249.50 223.69,247.81 224.28,247.54"/><path stroke-opacity="0.68" stroke-width="2.35" d="M224.28,247.54 224.94,247.85 226.31,249.32 226.89,249.56"/><path stroke-opacity="0.66" stroke-width="2.35" d="M226.89,249.56 227.55,249.28 228.91,247.96 229.50,247.74"/><path stroke-opacity="0.65" stroke-width="2.36" d="M229.50,247.74 230.15,247.99 231.51,249.20 232.10,249.39"/><path stroke-opacity="0.64" stroke-width="2.36" d="M232.10,249.39 232.76,249.16 234.12,248.07 234.71,247.89"/><path stroke-opacity="0.63" stroke-width="2.37" d="M234.71,247.89 235.36,248.10 236.71,249.09 237.30,249.25"/><path stroke-opacity="0.63" stroke-width="2.37" d="M237.30,249.25 237.96,249.07 239.32,248.16 239.91,248.02"/><path stroke-opacity="0.62" stroke-width="2.37" d="M239.91,248.02 242.51,249.14"/><path stroke-opacity="0.61" stroke-width="2.37" d="M242.51,249.14 245.11,248.12"/><path stroke-opacity="0.61" stroke-width="2.38" d="M245.11,248.12 247.71,249.05"/><path stroke-opacity="0.60" stroke-width="2.38" d="M247.71,249.05 250.32,248.21"/><path stroke-opacity="0.60" stroke-width="2.38" d="M250.32,248.21 252.92,248.97"/><path stroke-opacity="0.59" stroke-width="2.38" d="M252.92,248.97 255.52,248.28"/><path stroke-opacity="0.59" stroke-width="2.38" d="M255.52,248.28 258.12,248.90"/><path stroke-opacity="0.59" stroke-width="2.39" d="M258.12,248.90 260.73,248.33"/><path stroke-opacity="0.58" stroke-width="2.39" d="M260.73,248.33 263.33,248.85"/><path stroke-opacity="0.58" stroke-width="2.39" d="M263.33,248.85 265.93,248.38"/><path stroke-opacity="0.58" stroke-width="2.39" d="M265.93,248.38 268.53,248.81"/><path stroke-opacity="0.57" stroke-width="2.39" d="M268.53,248.81 271.13,248.42"/><path stroke-opacity="0.57" stroke-width="2.39" d="M271.13,248.42 273.73,248.77"/><path stroke-opacity="0.57" stroke-width="2.39" d="M273.73,248.77 276.34,248.45"/><path stroke-opacity="0.57" stroke-width="2.39" d="M276.34,248.45 278.94,248.74"/><path stroke-opacity="0.57" stroke-width="2.39" d="M278.94,248.74 281.54,248.48"/><path stroke-opacity="0.56" stroke-width="2.39" d="M281.54,248.48 284.14,248.72"/><path stroke-opacity="0.56" stroke-width="2.39" d="M284.14,248.72 286.74,248.50"/><path stroke-opacity="0.56" stroke-width="2.40" d="M286.74,248.50 289.35,248.70"/><path stroke-opacity="0.56" stroke-width="2.40" d="M289.35,248.70 291.95,248.52"/><path stroke-opacity="0.56" stroke-width="2.40" d="M291.95,248.52 294.55,248.68"/><path stroke-opacity="0.56" stroke-width="2.40" d="M294.55,248.68 297.15,248.54"/><path stroke-opacity="0.56" stroke-width="2.40" d="M297.15,248.54 299.76,248.67"/><path stroke-opacity="0.56" stroke-width="2.40" d="M299.76,248.67 302.35,248.55"/><path stroke-opacity="0.55" stroke-width="2.40" d="M302.35,248.55 800.10,248.61"/></g>
<g stroke="#7E2F8E"><path stroke-opacity="0.80" stroke-width="2.60" d="M72.70,603.42 74.00,603.30 75.09,602.93 75.97,602.33 76.72,601.45 77.92,598.62 78.86,594.04 79.68,586.80 80.37,576.67 81.50,545.53 82.38,497.90 83.12,428.76 84.73,149.76 85.21,107.96"/><path stroke-opacity="0.80" stroke-width="2.60" d="M85.21,107.96 85.63,138.02 86.95,339.30 87.47,377.80 87.74,387.54 88.00,390.74"/><path stroke-opacity="0.80" stroke-width="2.60" d="M88.00,390.74 88.27,387.78 88.53,378.90 89.05,342.98 90.46,152.46 90.91,122.99"/><path stroke-opacity="0.80" stroke-width="2.60" d="M90.91,122.99 91.34,148.31 92.57,303.50 92.99,330.57 93.41,339.75"/><path stroke-opacity="0.80" stroke-width="2.60" d="M93.41,339.75 93.82,331.69 94.22,307.50 95.52,160.56 96.00,135.46"/><path stroke-opacity="0.80" stroke-width="2.60" d="M96.00,135.46 96.45,157.61 97.64,282.78 98.01,302.83 98.37,309.51"/><path stroke-opacity="0.80" stroke-width="2.60" d="M98.37,309.51 98.72,303.34 99.07,285.43 100.30,167.86 100.80,146.02"/><path stroke-opacity="0.80" stroke-width="2.60" d="M100.80,146.02 101.27,165.22 102.43,266.94 102.76,282.62 103.09,287.77"/><path stroke-opacity="0.80" stroke-width="2.60" d="M103.09,287.77 103.40,283.21 103.73,269.10 104.92,173.90 105.44,155.03"/><path stroke-opacity="0.80" stroke-width="2.60" d="M105.44,155.03 105.93,171.03 107.06,253.49 107.38,265.55 107.68,269.44"/><path stroke-opacity="0.80" stroke-width="2.60" d="M107.68,269.44 107.98,265.77 108.28,254.92 109.48,177.48 109.99,162.72"/><path stroke-opacity="0.80" stroke-width="2.60" d="M109.99,162.72 110.46,174.72 111.59,239.32 111.90,248.87 112.21,251.99"/><path stroke-opacity="0.80" stroke-width="2.60" d="M112.21,251.99 112.50,249.06 112.82,240.24 113.99,180.45 114.48,169.30"/><path stroke-opacity="0.80" stroke-width="2.60" d="M114.48,169.30 114.94,178.66 116.07,230.74 116.38,238.49 116.69,241.06"/><path stroke-opacity="0.80" stroke-width="2.60" d="M116.69,241.06 116.98,238.81 117.28,231.91 118.45,183.72 118.93,174.91"/><path stroke-opacity="0.80" stroke-width="2.60" d="M118.93,174.91 119.39,182.57 120.50,224.53 120.82,230.96 121.14,233.09"/><path stroke-opacity="0.80" stroke-width="2.60" d="M121.14,233.09 121.43,231.27 121.73,225.61 122.88,186.73 123.36,179.68"/><path stroke-opacity="0.80" stroke-width="2.60" d="M123.36,179.68 123.83,186.31 124.96,222.19 125.26,227.49 125.56,229.24"/><path stroke-opacity="0.80" stroke-width="2.60" d="M125.56,229.24 125.84,227.70 126.12,223.18 127.27,189.99 127.76,183.74"/><path stroke-opacity="0.80" stroke-width="2.60" d="M127.76,183.74 128.25,189.56 129.39,220.28 129.68,224.58 129.95,226.00"/><path stroke-opacity="0.80" stroke-width="2.60" d="M129.95,226.00 130.22,224.82 130.49,221.11 131.64,192.75 131.90,188.57 132.16,187.13"/><path stroke-opacity="0.80" stroke-width="2.60" d="M132.16,187.13 132.40,188.32 132.66,192.18 133.79,218.05 134.07,221.62 134.35,222.79"/><path stroke-opacity="0.80" stroke-width="2.60" d="M134.35,222.79 134.61,221.73 134.88,218.58 136.03,194.45 136.29,190.94 136.54,189.74"/><path stroke-opacity="0.80" stroke-width="2.60" d="M136.54,189.74 136.78,190.75 137.05,194.01 138.17,216.01 138.46,219.03 138.73,220.01"/><path stroke-opacity="0.80" stroke-width="2.60" d="M138.73,220.01 138.98,219.15 139.25,216.52 140.39,196.21 140.66,193.16 140.92,192.16"/><path stroke-opacity="0.80" stroke-width="2.60" d="M140.92,192.16 141.16,193.06 141.42,195.81 142.56,214.26 142.84,216.72 143.11,217.54"/><path stroke-opacity="0.80" stroke-width="2.60" d="M143.11,217.54 143.61,214.82 144.75,198.33 145.03,195.81 145.29,194.98"/><path stroke-opacity="0.80" stroke-width="2.60" d="M145.29,194.98 145.55,195.74 145.82,198.01 146.96,212.99 147.22,214.87 147.48,215.50"/><path stroke-opacity="0.80" stroke-width="2.60" d="M147.48,215.50 147.96,213.42 149.09,200.07 149.38,197.90 149.66,197.18"/><path stroke-opacity="0.80" stroke-width="2.60" d="M149.66,197.18 149.92,197.78 150.20,199.69 151.35,211.87 151.85,213.82"/><path stroke-opacity="0.80" stroke-width="2.60" d="M151.85,213.82 152.11,213.29 152.39,211.64 153.52,200.83 154.03,199.02"/><path stroke-opacity="0.80" stroke-width="2.60" d="M154.03,199.02 154.31,199.55 154.61,201.18 155.75,210.94 156.22,212.43"/><path stroke-opacity="0.80" stroke-width="2.60" d="M156.22,212.43 156.74,210.72 157.83,202.23 158.11,201.07 158.38,200.68"/><path stroke-opacity="0.80" stroke-width="2.60" d="M158.38,200.68 158.64,201.02 158.92,202.06 160.08,209.80 160.59,211.27"/><path stroke-opacity="0.80" stroke-width="2.60" d="M160.59,211.27 161.07,210.01 162.09,203.77 162.43,202.67 162.75,202.31"/><path stroke-opacity="0.80" stroke-width="2.60" d="M162.75,202.31 163.06,202.64 163.41,203.63 164.48,209.26 164.96,210.31"/><path stroke-opacity="0.80" stroke-width="2.60" d="M164.96,210.31 165.43,209.30 166.26,204.95 166.72,203.77 167.12,203.40"/><path stroke-opacity="0.80" stroke-width="2.60" d="M167.12,203.40 167.53,203.76 168.03,204.94 168.86,208.67 169.33,209.51"/><path stroke-opacity="0.80" stroke-width="2.60" d="M169.33,209.51 169.82,208.60 170.46,205.51 171.02,204.41 171.49,204.08"/><path stroke-opacity="0.80" stroke-width="2.60" d="M171.49,204.08 171.96,204.40 172.61,205.52 173.20,208.07 173.69,208.85"/><path stroke-opacity="0.80" stroke-width="2.60" d="M173.69,208.85 174.18,208.09 174.82,205.51 175.40,204.72 175.87,204.48"/><path stroke-opacity="0.79" stroke-width="2.60" d="M175.87,204.48 176.35,204.71 176.97,205.51 177.58,207.66 178.06,208.30"/><path stroke-opacity="0.78" stroke-width="2.59" d="M178.06,208.30 178.54,207.67 179.18,205.51 179.77,204.85 180.24,204.65"/><path stroke-opacity="0.75" stroke-width="2.58" d="M180.24,204.65 180.72,204.85 181.34,205.52 181.94,207.30 182.43,207.84"/><path stroke-opacity="0.74" stroke-width="2.58" d="M182.43,207.84 182.91,207.31 183.55,205.52 184.14,204.96 184.61,204.79"/><path stroke-opacity="0.72" stroke-width="2.57" d="M184.61,204.79 185.08,204.96 185.71,205.51 186.31,207.01 186.79,207.45"/><path stroke-opacity="0.71" stroke-width="2.56" d="M186.79,207.45 187.27,207.02 187.91,205.52 188.97,204.91"/><path stroke-opacity="0.69" stroke-width="2.56" d="M188.97,204.91 190.08,205.52 190.68,206.76 191.16,207.13"/><path stroke-opacity="0.68" stroke-width="2.55" d="M191.16,207.13 191.64,206.77 192.28,205.52 193.34,205.01"/><path stroke-opacity="0.67" stroke-width="2.55" d="M193.34,205.01 194.44,205.52 195.04,206.55 195.52,206.87"/><path stroke-opacity="0.66" stroke-width="2.54" d="M195.52,206.87 196.00,206.57 196.64,205.52 197.70,205.10"/><path stroke-opacity="0.65" stroke-width="2.54" d="M197.70,205.10 198.81,205.52 199.41,206.38 199.89,206.64"/><path stroke-opacity="0.64" stroke-width="2.54" d="M199.89,206.64 200.37,206.39 201.01,205.52 202.07,205.16"/><path stroke-opacity="0.63" stroke-width="2.53" d="M202.07,205.16 203.18,205.52 203.78,206.24 204.26,206.46"/><path stroke-opacity="0.63" stroke-width="2.53" d="M204.26,206.46 204.74,206.24 205.37,205.52 206.44,205.22"/><path stroke-opacity="0.62" stroke-width="2.53" d="M206.44,205.22 207.55,205.52 208.14,206.12 208.62,206.30"/><path stroke-opacity="0.61" stroke-width="2.53" d="M208.62,206.30 209.10,206.13 209.73,205.52 210.80,205.27"/><path stroke-opacity="0.61" stroke-width="2.52" d="M210.80,205.27 211.91,205.52 212.99,206.17"/><path stroke-opacity="0.60" stroke-width="2.52" d="M212.99,206.17 214.11,205.52 215.17,205.31"/><path stroke-opacity="0.60" stroke-width="2.52" d="M215.17,205.31 216.27,205.52 217.35,206.07"/><path stroke-opacity="0.59" stroke-width="2.52" d="M217.35,206.07 218.47,205.52 219.53,205.35"/><path stroke-opacity="0.59" stroke-width="2.52" d="M219.53,205.35 220.65,205.52 221.72,205.98"/><path stroke-opacity="0.59" stroke-width="2.52" d="M221.72,205.98 222.84,205.52 223.90,205.37"/><path stroke-opacity="0.58" stroke-width="2.51" d="M223.90,205.37 226.09,205.90"/><path stroke-opacity="0.58" stroke-width="2.51" d="M226.09,205.90 227.20,205.52 228.27,205.40"/><path stroke-opacity="0.58" stroke-width="2.51" d="M228.27,205.40 230.45,205.84"/><path stroke-opacity="0.58" stroke-width="2.51" d="M230.45,205.84 232.63,205.42"/><path stroke-opacity="0.57" stroke-width="2.51" d="M232.63,205.42 234.82,205.78"/><path stroke-opacity="0.57" stroke-width="2.51" d="M234.82,205.78 237.00,205.43"/><path stroke-opacity="0.57" stroke-width="2.51" d="M237.00,205.43 239.18,205.74"/><path stroke-opacity="0.57" stroke-width="2.51" d="M239.18,205.74 241.36,205.45"/><path stroke-opacity="0.57" stroke-width="2.51" d="M241.36,205.45 243.55,205.70"/><path stroke-opacity="0.57" stroke-width="2.51" d="M243.55,205.70 245.73,205.46"/><path stroke-opacity="0.56" stroke-width="2.51" d="M245.73,205.46 247.92,205.67"/><path stroke-opacity="0.56" stroke-width="2.51" d="M247.92,205.67 250.10,205.47"/><path stroke-opacity="0.56" stroke-width="2.50" d="M250.10,205.47 252.28,205.65"/><path stroke-opacity="0.56" stroke-width="2.50" d="M252.28,205.65 254.46,205.48"/><path stroke-opacity="0.56" stroke-width="2.50" d="M254.46,205.48 256.64,205.63"/><path stroke-opacity="0.56" stroke-width="2.50" d="M256.64,205.63 258.83,205.48"/><path stroke-opacity="0.56" stroke-width="2.50" d="M258.83,205.48 261.01,205.61"/><path stroke-opacity="0.56" stroke-width="2.50" d="M261.01,205.61 800.10,205.52"/></g>
<g stroke="#77AC30"><path stroke-opacity="0.80" stroke-width="2.60" d="M72.70,603.60 75.06,603.26 75.85,602.82 76.49,602.14 77.52,599.78 78.30,595.76 78.98,589.03 79.55,579.30 80.47,548.15 81.17,499.14 81.76,426.98 83.12,113.71 83.57,61.59"/><path stroke-opacity="0.80" stroke-width="2.60" d="M83.57,61.59 83.95,96.25 85.09,319.84 85.51,359.99 85.95,373.63"/><path stroke-opacity="0.80" stroke-width="2.60" d="M85.95,373.63 86.37,361.02 86.78,324.01 87.98,115.35 88.40,80.70"/><path stroke-opacity="0.80" stroke-width="2.60" d="M88.40,80.70 88.80,110.32 89.87,282.39 90.21,310.94 90.55,320.40"/><path stroke-opacity="0.80" stroke-width="2.60" d="M90.55,320.40 90.89,312.10 91.21,287.41 92.31,128.32 92.77,98.08"/><path stroke-opacity="0.80" stroke-width="2.60" d="M92.77,98.08 93.21,125.19 94.25,264.81 94.54,285.60 94.83,292.73"/><path stroke-opacity="0.80" stroke-width="2.60" d="M94.83,292.73 95.10,286.71 95.39,268.13 96.43,139.35 96.93,111.55"/><path stroke-opacity="0.80" stroke-width="2.60" d="M96.93,111.55 97.41,136.77 98.41,250.16 98.67,266.29 98.92,271.57"/><path stroke-opacity="0.80" stroke-width="2.60" d="M98.92,271.57 99.16,266.94 99.42,252.86 100.44,147.61 100.72,128.74 100.97,122.83"/><path stroke-opacity="0.80" stroke-width="2.60" d="M100.97,122.83 101.45,142.03 102.44,230.36 102.68,242.06 102.93,245.93"/><path stroke-opacity="0.80" stroke-width="2.60" d="M102.93,245.93 103.41,231.71 104.43,150.39 104.70,136.48 104.95,131.95"/><path stroke-opacity="0.80" stroke-width="2.60" d="M104.95,131.95 105.40,146.08 106.39,214.15 106.64,223.29 106.89,226.32"/><path stroke-opacity="0.80" stroke-width="2.60" d="M106.89,226.32 107.36,215.58 108.39,152.47 108.88,139.51"/><path stroke-opacity="0.80" stroke-width="2.60" d="M108.88,139.51 109.32,150.34 110.31,203.41 110.57,210.81 110.82,213.22"/><path stroke-opacity="0.80" stroke-width="2.60" d="M110.82,213.22 111.27,205.11 112.29,157.27 112.77,147.15"/><path stroke-opacity="0.80" stroke-width="2.60" d="M112.77,147.15 113.24,155.79 114.23,197.59 114.71,204.88"/><path stroke-opacity="0.80" stroke-width="2.60" d="M114.71,204.88 115.14,198.90 116.15,161.23 116.42,155.08 116.66,153.07"/><path stroke-opacity="0.80" stroke-width="2.60" d="M116.66,153.07 117.14,160.04 118.13,192.95 118.58,198.40"/><path stroke-opacity="0.80" stroke-width="2.60" d="M118.58,198.40 118.83,196.80 119.09,192.04 120.10,162.05 120.53,157.24"/><path stroke-opacity="0.80" stroke-width="2.60" d="M120.53,157.24 121.01,162.87 122.00,188.95 122.45,193.31"/><path stroke-opacity="0.80" stroke-width="2.60" d="M122.45,193.31 122.95,188.26 123.96,164.32 124.40,160.47"/><path stroke-opacity="0.80" stroke-width="2.60" d="M124.40,160.47 124.88,164.93 125.87,185.87 126.31,189.34"/><path stroke-opacity="0.80" stroke-width="2.60" d="M126.31,189.34 126.74,186.29 127.75,166.82 128.25,162.62"/><path stroke-opacity="0.80" stroke-width="2.60" d="M128.25,162.62 128.72,166.12 129.71,183.32 130.16,186.18"/><path stroke-opacity="0.80" stroke-width="2.60" d="M130.16,186.18 130.60,183.64 131.62,167.67 132.11,164.36"/><path stroke-opacity="0.80" stroke-width="2.60" d="M132.11,164.36 132.56,167.19 133.55,181.25 134.02,183.72"/><path stroke-opacity="0.80" stroke-width="2.60" d="M134.02,183.72 134.51,181.09 135.51,168.77 135.93,166.84"/><path stroke-opacity="0.80" stroke-width="2.60" d="M135.93,166.84 136.41,169.08 137.42,179.99 137.87,181.79"/><path stroke-opacity="0.80" stroke-width="2.60" d="M137.87,181.79 138.33,179.92 139.32,170.80 139.78,169.21"/><path stroke-opacity="0.80" stroke-width="2.60" d="M139.78,169.21 140.29,170.99 141.29,178.89 141.71,180.10"/><path stroke-opacity="0.80" stroke-width="2.60" d="M141.71,180.10 142.15,178.78 143.12,172.14 143.63,170.87"/><path stroke-opacity="0.80" stroke-width="2.60" d="M143.63,170.87 144.09,171.88 145.09,177.60 145.55,178.73"/><path stroke-opacity="0.80" stroke-width="2.60" d="M145.55,178.73 145.99,177.75 146.95,172.82 147.48,171.83"/><path stroke-opacity="0.80" stroke-width="2.60" d="M147.48,171.83 147.95,172.61 148.94,176.85 149.39,177.67"/><path stroke-opacity="0.80" stroke-width="2.60" d="M149.39,177.67 149.83,176.95 150.78,173.31 151.32,172.55"/><path stroke-opacity="0.80" stroke-width="2.60" d="M151.32,172.55 151.78,173.09 152.78,176.14 153.23,176.73"/><path stroke-opacity="0.78" stroke-width="2.59" d="M153.23,176.73 153.67,176.22 154.64,173.60 155.16,173.08"/><path stroke-opacity="0.74" stroke-width="2.57" d="M155.16,173.08 155.61,173.45 156.61,175.64 157.08,176.07"/><path stroke-opacity="0.71" stroke-width="2.56" d="M157.08,176.07 157.51,175.71 158.49,173.84 159.01,173.48"/><path stroke-opacity="0.69" stroke-width="2.55" d="M159.01,173.48 159.46,173.75 160.47,175.33 160.93,175.65"/><path stroke-opacity="0.67" stroke-width="2.55" d="M160.93,175.65 161.37,175.38 162.32,174.04 162.85,173.77"/><path stroke-opacity="0.66" stroke-width="2.54" d="M162.85,173.77 163.35,174.01 164.35,175.23 164.78,175.46"/><path stroke-opacity="0.65" stroke-width="2.54" d="M164.78,175.46 165.20,175.25 166.15,174.15 166.70,173.92"/><path stroke-opacity="0.64" stroke-width="2.53" d="M166.70,173.92 167.21,174.11 168.19,175.10 168.62,175.30"/><path stroke-opacity="0.63" stroke-width="2.53" d="M168.62,175.30 169.05,175.12 169.99,174.22 170.54,174.02"/><path stroke-opacity="0.62" stroke-width="2.53" d="M170.54,174.02 171.06,174.18 172.46,175.16"/><path stroke-opacity="0.62" stroke-width="2.53" d="M172.46,175.16 173.84,174.26 174.39,174.10"/><path stroke-opacity="0.61" stroke-width="2.52" d="M174.39,174.10 176.31,175.05"/><path stroke-opacity="0.61" stroke-width="2.52" d="M176.31,175.05 178.23,174.17"/><path stroke-opacity="0.60" stroke-width="2.52" d="M178.23,174.17 180.15,174.96"/><path stroke-opacity="0.60" stroke-width="2.52" d="M180.15,174.96 182.07,174.23"/><path stroke-opacity="0.59" stroke-width="2.52" d="M182.07,174.23 183.99,174.89"/><path stroke-opacity="0.59" stroke-width="2.52" d="M183.99,174.89 185.91,174.28"/><path stroke-opacity="0.58" stroke-width="2.51" d="M185.91,174.28 187.83,174.82"/><path stroke-opacity="0.58" stroke-width="2.51" d="M187.83,174.82 189.76,174.32"/><path stroke-opacity="0.58" stroke-width="2.51" d="M189.76,174.32 191.68,174.77"/><path stroke-opacity="0.58" stroke-width="2.51" d="M191.68,174.77 193.60,174.35"/><path stroke-opacity="0.57" stroke-width="2.51" d="M193.60,174.35 195.52,174.73"/><path stroke-opacity="0.57" stroke-width="2.51" d="M195.52,174.73 197.44,174.38"/><path stroke-opacity="0.57" stroke-width="2.51" d="M197.44,174.38 199.36,174.69"/><path stroke-opacity="0.57" stroke-width="2.51" d="M199.36,174.69 201.28,174.40"/><path stroke-opacity="0.57" stroke-width="2.51" d="M201.28,174.40 203.20,174.66"/><path stroke-opacity="0.57" stroke-width="2.51" d="M203.20,174.66 205.13,174.42"/><path stroke-opacity="0.56" stroke-width="2.51" d="M205.13,174.42 207.05,174.64"/><path stroke-opacity="0.56" stroke-width="2.51" d="M207.05,174.64 208.97,174.44"/><path stroke-opacity="0.56" stroke-width="2.50" d="M208.97,174.44 210.89,174.62"/><path stroke-opacity="0.56" stroke-width="2.50" d="M210.89,174.62 212.81,174.45"/><path stroke-opacity="0.56" stroke-width="2.50" d="M212.81,174.45 214.73,174.60"/><path stroke-opacity="0.56" stroke-width="2.50" d="M214.73,174.60 216.65,174.46"/><path stroke-opacity="0.56" stroke-width="2.50" d="M216.65,174.46 218.57,174.59"/><path stroke-opacity="0.55" stroke-width="2.50" d="M218.57,174.59 800.10,174.52"/></g>
<g stroke="#4DBEEE"><path stroke-opacity="0.80" stroke-width="2.60" d="M72.70,603.55 74.00,603.44 75.03,603.14 75.83,602.62 76.49,601.83 77.55,599.19 78.37,594.79 79.09,587.62 79.68,577.35 80.65,544.97 81.41,493.81 82.03,419.41 83.33,121.46 83.83,62.35"/><path stroke-opacity="0.80" stroke-width="2.60" d="M83.83,62.35 84.27,106.01 85.20,300.35 85.52,333.44 85.85,344.60"/><path stroke-opacity="0.80" stroke-width="2.60" d="M85.85,344.60 86.17,334.75 86.50,304.30 87.50,121.05 88.00,77.37"/><path stroke-opacity="0.80" stroke-width="2.60" d="M88.00,77.37 88.47,114.06 89.36,263.04 89.61,284.67 89.87,292.22"/><path stroke-opacity="0.80" stroke-width="2.60" d="M89.87,292.22 90.35,265.77 91.24,127.73 91.53,98.25 91.79,88.88"/><path stroke-opacity="0.80" stroke-width="2.60" d="M91.79,88.88 92.26,118.12 93.13,234.24 93.57,254.95"/><path stroke-opacity="0.80" stroke-width="2.60" d="M93.57,254.95 94.00,236.01 94.89,127.30 95.16,105.65 95.41,98.70"/><path stroke-opacity="0.80" stroke-width="2.60" d="M95.41,98.70 95.88,121.43 96.75,213.17 97.16,228.99"/><path stroke-opacity="0.80" stroke-width="2.60" d="M97.16,228.99 97.63,210.20 98.53,123.54 98.96,108.05"/><path stroke-opacity="0.80" stroke-width="2.60" d="M98.96,108.05 99.41,124.09 100.28,193.84 100.69,205.51"/><path stroke-opacity="0.80" stroke-width="2.60" d="M100.69,205.51 101.15,191.58 102.07,126.23 102.47,115.59"/><path stroke-opacity="0.80" stroke-width="2.60" d="M102.47,115.59 102.90,127.12 103.79,181.25 104.20,190.40"/><path stroke-opacity="0.80" stroke-width="2.60" d="M104.20,190.40 104.59,182.53 105.51,132.71 105.96,121.89"/><path stroke-opacity="0.80" stroke-width="2.60" d="M105.96,121.89 106.38,130.46 107.27,172.51 107.69,179.65"/><path stroke-opacity="0.80" stroke-width="2.60" d="M107.69,179.65 108.08,173.56 109.00,135.30 109.45,127.44"/><path stroke-opacity="0.80" stroke-width="2.60" d="M109.45,127.44 109.85,133.83 110.74,165.98 111.16,171.77"/><path stroke-opacity="0.80" stroke-width="2.60" d="M111.16,171.77 111.57,166.92 112.50,137.65 112.92,131.87"/><path stroke-opacity="0.80" stroke-width="2.60" d="M112.92,131.87 113.31,136.66 114.20,161.56 114.64,166.14"/><path stroke-opacity="0.80" stroke-width="2.60" d="M114.64,166.14 115.04,162.58 115.95,141.08 116.37,136.81"/><path stroke-opacity="0.80" stroke-width="2.60" d="M116.37,136.81 116.78,140.45 117.69,158.97 118.12,162.24"/><path stroke-opacity="0.80" stroke-width="2.60" d="M118.12,162.24 118.56,159.05 119.46,143.63 119.85,141.16"/><path stroke-opacity="0.80" stroke-width="2.60" d="M119.85,141.16 120.29,144.10 121.20,157.74 121.59,159.89"/><path stroke-opacity="0.80" stroke-width="2.60" d="M121.59,159.89 122.00,157.55 122.89,145.85 123.32,143.76"/><path stroke-opacity="0.80" stroke-width="2.60" d="M123.32,143.76 123.72,145.53 124.64,156.01 125.06,158.06"/><path stroke-opacity="0.80" stroke-width="2.60" d="M125.06,158.06 125.45,156.35 126.32,147.49 126.78,145.73"/><path stroke-opacity="0.80" stroke-width="2.60" d="M126.78,145.73 127.20,147.07 128.10,154.71 128.51,156.18"/><path stroke-opacity="0.80" stroke-width="2.60" d="M128.51,156.18 128.89,154.93 129.76,148.54 130.24,147.22"/><path stroke-opacity="0.80" stroke-width="2.60" d="M130.24,147.22 130.64,148.06 131.55,153.08 131.97,154.08"/><path stroke-opacity="0.80" stroke-width="2.60" d="M131.97,154.08 132.36,153.30 133.22,149.36 133.71,148.55"/><path stroke-opacity="0.80" stroke-width="2.60" d="M133.71,148.55 134.11,149.08 135.02,152.21 135.44,152.81"/><path stroke-opacity="0.77" stroke-width="2.59" d="M135.44,152.81 135.82,152.32 136.69,149.83 137.18,149.31"/><path stroke-opacity="0.72" stroke-width="2.57" d="M137.18,149.31 137.58,149.65 138.50,151.63 138.92,152.02"/><path stroke-opacity="0.69" stroke-width="2.56" d="M138.92,152.02 139.32,151.69 140.19,150.04 140.65,149.72"/><path stroke-opacity="0.67" stroke-width="2.55" d="M140.65,149.72 141.08,149.97 141.98,151.40 142.39,151.68"/><path stroke-opacity="0.66" stroke-width="2.54" d="M142.39,151.68 142.78,151.43 143.65,150.20 144.12,149.95"/><path stroke-opacity="0.64" stroke-width="2.54" d="M144.12,149.95 144.55,150.14 145.45,151.21 145.85,151.42"/><path stroke-opacity="0.63" stroke-width="2.53" d="M145.85,151.42 146.25,151.24 147.12,150.31 147.59,150.12"/><path stroke-opacity="0.62" stroke-width="2.53" d="M147.59,150.12 149.32,151.23"/><path stroke-opacity="0.61" stroke-width="2.52" d="M149.32,151.23 151.06,150.25"/><path stroke-opacity="0.60" stroke-width="2.52" d="M151.06,150.25 152.79,151.08"/><path stroke-opacity="0.60" stroke-width="2.52" d="M152.79,151.08 154.53,150.35"/><path stroke-opacity="0.59" stroke-width="2.52" d="M154.53,150.35 156.26,150.97"/><path stroke-opacity="0.58" stroke-width="2.51" d="M156.26,150.97 157.99,150.42"/><path stroke-opacity="0.58" stroke-width="2.51" d="M157.99,150.42 159.73,150.89"/><path stroke-opacity="0.58" stroke-width="2.51" d="M159.73,150.89 161.46,150.48"/><path stroke-opacity="0.57" stroke-width="2.51" d="M161.46,150.48 163.19,150.83"/><path stroke-opacity="0.57" stroke-width="2.51" d="M163.19,150.83 164.92,150.52"/><path stroke-opacity="0.57" stroke-width="2.51" d="M164.92,150.52 166.66,150.78"/><path stroke-opacity="0.56" stroke-width="2.51" d="M166.66,150.78 168.39,150.55"/><path stroke-opacity="0.56" stroke-width="2.50" d="M168.39,150.55 170.12,150.75"/><path stroke-opacity="0.56" stroke-width="2.50" d="M170.12,150.75 171.86,150.57"/><path stroke-opacity="0.56" stroke-width="2.50" d="M171.86,150.57 173.59,150.72"/><path stroke-opacity="0.56" stroke-width="2.50" d="M173.59,150.72 175.32,150.59"/><path stroke-opacity="0.55" stroke-width="2.50" d="M175.32,150.59 800.10,150.65"/></g>
<g stroke="#A2142F"><path stroke-opacity="0.80" stroke-width="2.60" d="M72.70,598.75 73.07,598.38 73.43,597.30 74.07,593.10 74.62,586.26 75.09,576.55 75.85,546.96 76.46,501.09 77.33,364.56 78.29,57.44 78.56,17.28"/><path stroke-opacity="0.80" stroke-width="2.60" d="M78.56,17.28 78.87,72.01 79.65,350.79 79.95,402.45 80.26,419.45"/><path stroke-opacity="0.80" stroke-width="2.60" d="M80.26,419.45 80.57,401.87 80.88,351.32 81.73,76.56 82.05,25.06"/><path stroke-opacity="0.80" stroke-width="2.60" d="M82.05,25.06 82.35,65.14 83.08,279.72 83.55,328.27"/><path stroke-opacity="0.80" stroke-width="2.60" d="M83.55,328.27 83.80,316.41 84.05,281.68 84.85,72.70 85.15,35.27"/><path stroke-opacity="0.80" stroke-width="2.60" d="M85.15,35.27 85.41,63.04 86.14,229.84 86.59,266.83"/><path stroke-opacity="0.80" stroke-width="2.60" d="M86.59,266.83 87.03,233.89 87.78,77.20 88.07,49.31"/><path stroke-opacity="0.80" stroke-width="2.60" d="M88.07,49.31 88.35,74.17 89.07,213.07 89.47,240.76"/><path stroke-opacity="0.80" stroke-width="2.60" d="M89.47,240.76 89.86,216.11 90.59,88.37 90.90,63.55"/><path stroke-opacity="0.80" stroke-width="2.60" d="M90.90,63.55 91.21,85.69 91.90,198.70 92.27,219.39"/><path stroke-opacity="0.80" stroke-width="2.60" d="M92.27,219.39 92.62,200.79 93.36,94.84 93.68,74.96"/><path stroke-opacity="0.80" stroke-width="2.60" d="M93.68,74.96 93.97,91.56 94.67,178.64 95.03,194.98"/><path stroke-opacity="0.80" stroke-width="2.60" d="M95.03,194.98 95.37,181.09 96.09,102.68 96.42,87.08"/><path stroke-opacity="0.80" stroke-width="2.60" d="M96.42,87.08 96.72,100.18 97.41,166.66 97.77,179.09"/><path stroke-opacity="0.80" stroke-width="2.60" d="M97.77,179.09 98.09,168.87 98.81,108.52 99.14,96.57"/><path stroke-opacity="0.80" stroke-width="2.60" d="M99.14,96.57 99.44,106.51 100.13,157.77 100.48,167.39"/><path stroke-opacity="0.80" stroke-width="2.60" d="M100.48,167.39 100.80,159.85 101.52,113.72 101.85,104.67"/><path stroke-opacity="0.80" stroke-width="2.60" d="M101.85,104.67 102.15,112.35 102.85,151.86 103.19,158.99"/><path stroke-opacity="0.80" stroke-width="2.60" d="M103.19,158.99 103.51,153.14 104.21,118.15 104.55,111.00"/><path stroke-opacity="0.80" stroke-width="2.60" d="M104.55,111.00 104.87,117.18 105.56,147.98 105.89,153.29"/><path stroke-opacity="0.80" stroke-width="2.60" d="M105.89,153.29 106.20,148.77 106.91,120.51 107.24,114.77"/><path stroke-opacity="0.80" stroke-width="2.60" d="M107.24,114.77 107.56,119.79 108.26,144.72 108.58,148.93"/><path stroke-opacity="0.80" stroke-width="2.60" d="M108.58,148.93 108.93,144.27 109.64,122.06 109.94,118.61"/><path stroke-opacity="0.80" stroke-width="2.60" d="M109.94,118.61 110.26,122.70 110.97,142.54 111.28,145.77"/><path stroke-opacity="0.80" stroke-width="2.60" d="M111.28,145.77 111.62,142.12 112.31,124.77 112.62,121.83"/><path stroke-opacity="0.80" stroke-width="2.60" d="M112.62,121.83 112.92,124.34 113.63,140.24 113.97,143.41"/><path stroke-opacity="0.80" stroke-width="2.60" d="M113.97,143.41 114.29,140.69 114.96,127.09 115.30,124.59"/><path stroke-opacity="0.80" stroke-width="2.60" d="M115.30,124.59 115.64,126.88 116.34,139.25 116.66,141.56"/><path stroke-opacity="0.80" stroke-width="2.60" d="M116.66,141.56 116.96,139.50 117.58,129.40 117.99,126.99"/><path stroke-opacity="0.80" stroke-width="2.60" d="M117.99,126.99 118.39,129.12 119.05,138.26 119.34,139.98"/><path stroke-opacity="0.80" stroke-width="2.60" d="M119.34,139.98 119.63,138.37 120.16,131.14 120.67,128.72"/><path stroke-opacity="0.80" stroke-width="2.60" d="M120.67,128.72 121.20,130.97 121.75,137.35 122.03,138.68"/><path stroke-opacity="0.80" stroke-width="2.60" d="M122.03,138.68 122.33,137.23 122.73,132.19 123.07,130.51 123.36,130.00"/><path stroke-opacity="0.80" stroke-width="2.60" d="M123.36,130.00 123.65,130.50 124.05,132.21 124.42,136.40 124.72,137.67"/><path stroke-opacity="0.80" stroke-width="2.60" d="M124.72,137.67 125.01,136.44 125.41,132.24 125.75,131.19 126.04,130.87"/><path stroke-opacity="0.80" stroke-width="2.60" d="M126.04,130.87 126.33,131.17 126.73,132.21 127.09,135.35 127.39,136.27"/><path stroke-opacity="0.80" stroke-width="2.60" d="M127.39,136.27 127.68,135.38 128.09,132.23 128.75,131.31"/><path stroke-opacity="0.78" stroke-width="2.59" d="M128.75,131.31 129.42,132.22 129.78,134.35 130.08,135.00"/><path stroke-opacity="0.77" stroke-width="2.59" d="M130.08,135.00 130.38,134.37 130.78,132.21 131.43,131.48"/><path stroke-opacity="0.72" stroke-width="2.57" d="M131.43,131.48 132.11,132.22 132.47,133.72 132.76,134.15"/><path stroke-opacity="0.71" stroke-width="2.56" d="M132.76,134.15 133.06,133.71 133.47,132.21 134.11,131.62"/><path stroke-opacity="0.67" stroke-width="2.55" d="M134.11,131.62 134.79,132.21 135.16,133.28 135.46,133.60"/><path stroke-opacity="0.67" stroke-width="2.55" d="M135.46,133.60 135.76,133.28 136.15,132.22 136.80,131.74"/><path stroke-opacity="0.65" stroke-width="2.54" d="M136.80,131.74 137.48,132.22 137.85,133.08 138.14,133.34"/><path stroke-opacity="0.64" stroke-width="2.54" d="M138.14,133.34 138.84,132.22 139.48,131.83"/><path stroke-opacity="0.63" stroke-width="2.53" d="M139.48,131.83 140.17,132.22 140.83,133.12"/><path stroke-opacity="0.63" stroke-width="2.53" d="M140.83,133.12 141.52,132.22 142.17,131.90"/><path stroke-opacity="0.62" stroke-width="2.53" d="M142.17,131.90 142.85,132.22 143.51,132.95"/><path stroke-opacity="0.61" stroke-width="2.52" d="M143.51,132.95 144.20,132.22 144.86,131.97"/><path stroke-opacity="0.60" stroke-width="2.52" d="M144.86,131.97 145.53,132.22 146.20,132.81"/><path stroke-opacity="0.60" stroke-width="2.52" d="M146.20,132.81 146.89,132.22 147.54,132.01"/><path stroke-opacity="0.59" stroke-width="2.52" d="M147.54,132.01 148.23,132.22 148.89,132.70"/><path stroke-opacity="0.59" stroke-width="2.52" d="M148.89,132.70 149.57,132.22 150.23,132.05"/><path stroke-opacity="0.58" stroke-width="2.51" d="M150.23,132.05 151.57,132.61"/><path stroke-opacity="0.58" stroke-width="2.51" d="M151.57,132.61 152.91,132.09"/><path stroke-opacity="0.58" stroke-width="2.51" d="M152.91,132.09 154.26,132.53"/><path stroke-opacity="0.58" stroke-width="2.51" d="M154.26,132.53 155.59,132.11"/><path stroke-opacity="0.57" stroke-width="2.51" d="M155.59,132.11 156.94,132.47"/><path stroke-opacity="0.57" stroke-width="2.51" d="M156.94,132.47 158.29,132.13"/><path stroke-opacity="0.57" stroke-width="2.51" d="M158.29,132.13 159.62,132.43"/><path stroke-opacity="0.57" stroke-width="2.51" d="M159.62,132.43 160.97,132.15"/><path stroke-opacity="0.56" stroke-width="2.51" d="M160.97,132.15 162.31,132.39"/><path stroke-opacity="0.56" stroke-width="2.51" d="M162.31,132.39 163.65,132.16"/><path stroke-opacity="0.56" stroke-width="2.50" d="M163.65,132.16 165.00,132.35"/><path stroke-opacity="0.56" stroke-width="2.50" d="M165.00,132.35 166.34,132.17"/><path stroke-opacity="0.56" stroke-width="2.50" d="M166.34,132.17 167.68,132.33"/><path stroke-opacity="0.56" stroke-width="2.50" d="M167.68,132.33 169.02,132.18"/><path stroke-opacity="0.56" stroke-width="2.50" d="M169.02,132.18 170.37,132.31"/><path stroke-opacity="0.56" stroke-width="2.50" d="M170.37,132.31 800.10,132.22"/></g>
</g></g>
<g fill="none" stroke="#6a6a6a" stroke-width="1.8">
<path d="M72.7,9.6H800.0V603.6H72.7Z"/>
<path d="M108.30,603.60v-3.6M108.30,9.60v3.6M144.75,603.60v-3.6M144.75,9.60v3.6M181.20,603.60v-3.6M181.20,9.60v3.6M217.66,603.60v-7M217.66,9.60v7M254.12,603.60v-3.6M254.12,9.60v3.6M290.57,603.60v-3.6M290.57,9.60v3.6M327.02,603.60v-3.6M327.02,9.60v3.6M363.48,603.60v-7M363.48,9.60v7M399.93,603.60v-3.6M399.93,9.60v3.6M436.39,603.60v-3.6M436.39,9.60v3.6M472.85,603.60v-3.6M472.85,9.60v3.6M509.30,603.60v-7M509.30,9.60v7M545.75,603.60v-3.6M545.75,9.60v3.6M582.21,603.60v-3.6M582.21,9.60v3.6M618.66,603.60v-3.6M618.66,9.60v3.6M655.12,603.60v-7M655.12,9.60v7M691.58,603.60v-3.6M691.58,9.60v3.6M728.03,603.60v-3.6M728.03,9.60v3.6M764.49,603.60v-3.6M764.49,9.60v3.6M72.70,584.48h3.6M800.00,584.48h-3.6M72.70,564.66h3.6M800.00,564.66h-3.6M72.70,544.84h3.6M800.00,544.84h-3.6M72.70,525.02h3.6M800.00,525.02h-3.6M72.70,505.20h7M800.00,505.20h-7M72.70,485.38h3.6M800.00,485.38h-3.6M72.70,465.56h3.6M800.00,465.56h-3.6M72.70,445.74h3.6M800.00,445.74h-3.6M72.70,425.92h3.6M800.00,425.92h-3.6M72.70,406.10h7M800.00,406.10h-7M72.70,386.28h3.6M800.00,386.28h-3.6M72.70,366.46h3.6M800.00,366.46h-3.6M72.70,346.64h3.6M800.00,346.64h-3.6M72.70,326.82h3.6M800.00,326.82h-3.6M72.70,307.00h7M800.00,307.00h-7M72.70,287.18h3.6M800.00,287.18h-3.6M72.70,267.36h3.6M800.00,267.36h-3.6M72.70,247.54h3.6M800.00,247.54h-3.6M72.70,227.72h3.6M800.00,227.72h-3.6M72.70,207.90h7M800.00,207.90h-7M72.70,188.08h3.6M800.00,188.08h-3.6M72.70,168.26h3.6M800.00,168.26h-3.6M72.70,148.44h3.6M800.00,148.44h-3.6M72.70,128.62h3.6M800.00,128.62h-3.6M72.70,108.80h7M800.00,108.80h-7M72.70,88.98h3.6M800.00,88.98h-3.6M72.70,69.16h3.6M800.00,69.16h-3.6M72.70,49.34h3.6M800.00,49.34h-3.6M72.70,29.52h3.6M800.00,29.52h-3.6" stroke="#606060" stroke-width="1.3"/>
</g>
<g font-size="26" fill="#333" text-anchor="middle">
<text x="72.14" y="637.3">0</text>
<text x="217.96" y="637.3">200</text>
<text x="363.78" y="637.3">400</text>
<text x="509.60" y="637.3">600</text>
<text x="655.42" y="637.3">800</text>
<text x="801.24" y="637.3">1000</text>
</g>
<g font-size="26" fill="#333" text-anchor="end">
<text x="63.8" y="613.30">0</text>
<text x="63.8" y="514.20">1</text>
<text x="63.8" y="415.10">2</text>
<text x="63.8" y="316.00">3</text>
<text x="63.8" y="216.90">4</text>
<text x="63.8" y="117.80">5</text>
<text x="63.8" y="18.70">6</text>
</g>
<text x="443.2" y="677" font-size="41.8" text-anchor="middle" fill="#000">Dimensionless Time(<tspan font-style="italic">τ</tspan>)</text>
<g transform="translate(33,308) rotate(-90)" font-size="42" fill="#000"><text x="-150.9" y="0">Bending Angle(</text><text transform="translate(117.2,0) skewX(-8)" font-style="italic" font-size="39">θ</text><text x="136.9" y="0">)</text></g>
<rect x="567.6" y="13.6" width="220.3" height="337.6" fill="#fff"/><rect x="573.6" y="19.5" width="208.1" height="325.7" fill="#fff" stroke="#000" stroke-width="3"/>
<g stroke-width="2.6" stroke-opacity="0.8">
<line x1="593.5" y1="54.8" x2="663.5" y2="54.8" stroke="#0072BD"/>
<line x1="593.5" y1="98.9" x2="663.5" y2="98.9" stroke="#D95319"/>
<line x1="593.5" y1="142.8" x2="663.5" y2="142.8" stroke="#EDB120"/>
<line x1="593.5" y1="186.1" x2="663.5" y2="186.1" stroke="#7E2F8E"/>
<line x1="593.5" y1="229.1" x2="663.5" y2="229.1" stroke="#77AC30"/>
<line x1="593.5" y1="272.9" x2="663.5" y2="272.9" stroke="#4DBEEE"/>
<line x1="593.5" y1="315.8" x2="663.5" y2="315.8" stroke="#A2142F"/>
</g>
<g font-size="28.5" font-weight="bold" fill="#000">
<text transform="translate(680.5,64.7) skewX(-15)">λ</text><text x="696.5" y="70.7"><tspan font-style="italic" font-size="19">P</tspan><tspan font-size="19" font-weight="normal" dx="0.5">1</tspan><tspan dy="-6" dx="0.3" letter-spacing="0.7">=2.0</tspan></text>
<text transform="translate(680.5,106.3) skewX(-15)">λ</text><text x="696.5" y="112.3"><tspan font-style="italic" font-size="19">P</tspan><tspan font-size="19" font-weight="normal" dx="0.5">1</tspan><tspan dy="-6" dx="0.3" letter-spacing="0.7">=2.5</tspan></text>
<text transform="translate(680.5,149.5) skewX(-15)">λ</text><text x="696.5" y="155.5"><tspan font-style="italic" font-size="19">P</tspan><tspan font-size="19" font-weight="normal" dx="0.5">1</tspan><tspan dy="-6" dx="0.3" letter-spacing="0.7">=3.0</tspan></text>
<text transform="translate(680.5,191.1) skewX(-15)">λ</text><text x="696.5" y="197.1"><tspan font-style="italic" font-size="19">P</tspan><tspan font-size="19" font-weight="normal" dx="0.5">1</tspan><tspan dy="-6" dx="0.3" letter-spacing="0.7">=3.5</tspan></text>
<text transform="translate(680.5,239.5) skewX(-15)">λ</text><text x="696.5" y="245.5"><tspan font-style="italic" font-size="19">P</tspan><tspan font-size="19" font-weight="normal" dx="0.5">1</tspan><tspan dy="-6" dx="0.3" letter-spacing="0.7">=4.0</tspan></text>
<text transform="translate(680.5,276.7) skewX(-15)">λ</text><text x="696.5" y="282.7"><tspan font-style="italic" font-size="19">P</tspan><tspan font-size="19" font-weight="normal" dx="0.5">1</tspan><tspan dy="-6" dx="0.3" letter-spacing="0.7">=4.5</tspan></text>
<text transform="translate(680.5,323.2) skewX(-15)">λ</text><text x="696.5" y="329.2"><tspan font-style="italic" font-size="19">P</tspan><tspan font-size="19" font-weight="normal" dx="0.5">1</tspan><tspan dy="-6" dx="0.3" letter-spacing="0.7">=5.0</tspan></text>
</g>
</svg>
</body></html>
